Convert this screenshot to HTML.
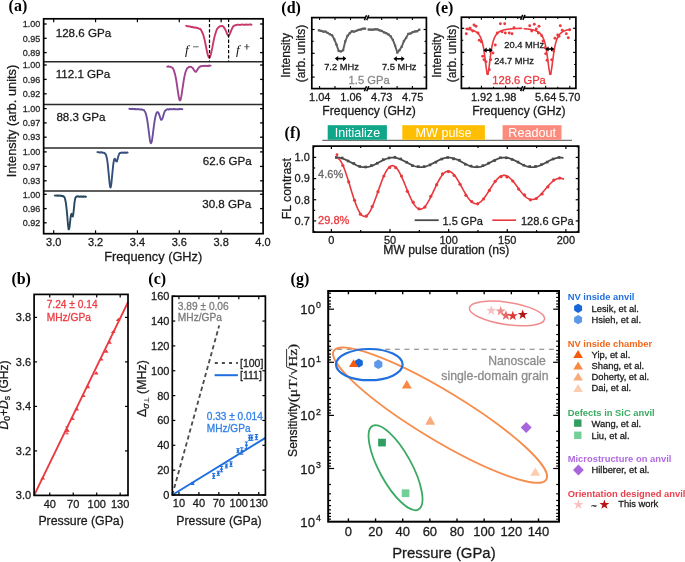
<!DOCTYPE html>
<html><head><meta charset="utf-8"><style>
html,body{margin:0;padding:0;background:#fff;overflow:hidden}
svg{display:block;will-change:transform}
svg{font-family:"Liberation Sans",sans-serif}
</style></head><body>
<svg width="685" height="562" viewBox="0 0 685 562">
<rect x="0" y="0" width="685" height="562" fill="#fff"/>
<text x="8.6" y="11.4" font-size="16" text-anchor="start" fill="#000" font-weight="bold" font-family="Liberation Serif" font-style="normal" >(a)</text>
<line x1="43.65" y1="24" x2="46.65" y2="24" stroke="#000" stroke-width="1.3" />
<line x1="263.1" y1="24" x2="260.1" y2="24" stroke="#000" stroke-width="1.3" />
<text x="40.2" y="27.2" font-size="9.0" text-anchor="end" fill="#2a2a2a" stroke="#2a2a2a" stroke-width="0.28" font-weight="normal" font-family="Liberation Sans" font-style="normal" >1.00</text>
<line x1="43.65" y1="38.3" x2="46.65" y2="38.3" stroke="#000" stroke-width="1.3" />
<line x1="263.1" y1="38.3" x2="260.1" y2="38.3" stroke="#000" stroke-width="1.3" />
<text x="40.2" y="41.5" font-size="9.0" text-anchor="end" fill="#2a2a2a" stroke="#2a2a2a" stroke-width="0.28" font-weight="normal" font-family="Liberation Sans" font-style="normal" >0.95</text>
<line x1="43.65" y1="52.6" x2="46.65" y2="52.6" stroke="#000" stroke-width="1.3" />
<line x1="263.1" y1="52.6" x2="260.1" y2="52.6" stroke="#000" stroke-width="1.3" />
<text x="40.2" y="55.8" font-size="9.0" text-anchor="end" fill="#2a2a2a" stroke="#2a2a2a" stroke-width="0.28" font-weight="normal" font-family="Liberation Sans" font-style="normal" >0.89</text>
<line x1="43.65" y1="61.8" x2="263.1" y2="61.8" stroke="#2a2a2a" stroke-width="1.5" />
<line x1="43.65" y1="65" x2="46.65" y2="65" stroke="#000" stroke-width="1.3" />
<line x1="263.1" y1="65" x2="260.1" y2="65" stroke="#000" stroke-width="1.3" />
<text x="40.2" y="68.2" font-size="9.0" text-anchor="end" fill="#2a2a2a" stroke="#2a2a2a" stroke-width="0.28" font-weight="normal" font-family="Liberation Sans" font-style="normal" >1.00</text>
<line x1="43.65" y1="79.4" x2="46.65" y2="79.4" stroke="#000" stroke-width="1.3" />
<line x1="263.1" y1="79.4" x2="260.1" y2="79.4" stroke="#000" stroke-width="1.3" />
<text x="40.2" y="82.6" font-size="9.0" text-anchor="end" fill="#2a2a2a" stroke="#2a2a2a" stroke-width="0.28" font-weight="normal" font-family="Liberation Sans" font-style="normal" >0.96</text>
<line x1="43.65" y1="93.8" x2="46.65" y2="93.8" stroke="#000" stroke-width="1.3" />
<line x1="263.1" y1="93.8" x2="260.1" y2="93.8" stroke="#000" stroke-width="1.3" />
<text x="40.2" y="97" font-size="9.0" text-anchor="end" fill="#2a2a2a" stroke="#2a2a2a" stroke-width="0.28" font-weight="normal" font-family="Liberation Sans" font-style="normal" >0.92</text>
<line x1="43.65" y1="104.6" x2="263.1" y2="104.6" stroke="#2a2a2a" stroke-width="1.5" />
<line x1="43.65" y1="108.6" x2="46.65" y2="108.6" stroke="#000" stroke-width="1.3" />
<line x1="263.1" y1="108.6" x2="260.1" y2="108.6" stroke="#000" stroke-width="1.3" />
<text x="40.2" y="111.8" font-size="9.0" text-anchor="end" fill="#2a2a2a" stroke="#2a2a2a" stroke-width="0.28" font-weight="normal" font-family="Liberation Sans" font-style="normal" >1.00</text>
<line x1="43.65" y1="122.9" x2="46.65" y2="122.9" stroke="#000" stroke-width="1.3" />
<line x1="263.1" y1="122.9" x2="260.1" y2="122.9" stroke="#000" stroke-width="1.3" />
<text x="40.2" y="126.1" font-size="9.0" text-anchor="end" fill="#2a2a2a" stroke="#2a2a2a" stroke-width="0.28" font-weight="normal" font-family="Liberation Sans" font-style="normal" >0.97</text>
<line x1="43.65" y1="137.2" x2="46.65" y2="137.2" stroke="#000" stroke-width="1.3" />
<line x1="263.1" y1="137.2" x2="260.1" y2="137.2" stroke="#000" stroke-width="1.3" />
<text x="40.2" y="140.4" font-size="9.0" text-anchor="end" fill="#2a2a2a" stroke="#2a2a2a" stroke-width="0.28" font-weight="normal" font-family="Liberation Sans" font-style="normal" >0.93</text>
<line x1="43.65" y1="147.9" x2="263.1" y2="147.9" stroke="#2a2a2a" stroke-width="1.5" />
<line x1="43.65" y1="151.9" x2="46.65" y2="151.9" stroke="#000" stroke-width="1.3" />
<line x1="263.1" y1="151.9" x2="260.1" y2="151.9" stroke="#000" stroke-width="1.3" />
<text x="40.2" y="155.1" font-size="9.0" text-anchor="end" fill="#2a2a2a" stroke="#2a2a2a" stroke-width="0.28" font-weight="normal" font-family="Liberation Sans" font-style="normal" >1.00</text>
<line x1="43.65" y1="166.4" x2="46.65" y2="166.4" stroke="#000" stroke-width="1.3" />
<line x1="263.1" y1="166.4" x2="260.1" y2="166.4" stroke="#000" stroke-width="1.3" />
<text x="40.2" y="169.6" font-size="9.0" text-anchor="end" fill="#2a2a2a" stroke="#2a2a2a" stroke-width="0.28" font-weight="normal" font-family="Liberation Sans" font-style="normal" >0.97</text>
<line x1="43.65" y1="180.8" x2="46.65" y2="180.8" stroke="#000" stroke-width="1.3" />
<line x1="263.1" y1="180.8" x2="260.1" y2="180.8" stroke="#000" stroke-width="1.3" />
<text x="40.2" y="184" font-size="9.0" text-anchor="end" fill="#2a2a2a" stroke="#2a2a2a" stroke-width="0.28" font-weight="normal" font-family="Liberation Sans" font-style="normal" >0.93</text>
<line x1="43.65" y1="191" x2="263.1" y2="191" stroke="#2a2a2a" stroke-width="1.5" />
<line x1="43.65" y1="194.3" x2="46.65" y2="194.3" stroke="#000" stroke-width="1.3" />
<line x1="263.1" y1="194.3" x2="260.1" y2="194.3" stroke="#000" stroke-width="1.3" />
<text x="40.2" y="197.5" font-size="9.0" text-anchor="end" fill="#2a2a2a" stroke="#2a2a2a" stroke-width="0.28" font-weight="normal" font-family="Liberation Sans" font-style="normal" >1.00</text>
<line x1="43.65" y1="208.6" x2="46.65" y2="208.6" stroke="#000" stroke-width="1.3" />
<line x1="263.1" y1="208.6" x2="260.1" y2="208.6" stroke="#000" stroke-width="1.3" />
<text x="40.2" y="211.8" font-size="9.0" text-anchor="end" fill="#2a2a2a" stroke="#2a2a2a" stroke-width="0.28" font-weight="normal" font-family="Liberation Sans" font-style="normal" >0.96</text>
<line x1="43.65" y1="222.8" x2="46.65" y2="222.8" stroke="#000" stroke-width="1.3" />
<line x1="263.1" y1="222.8" x2="260.1" y2="222.8" stroke="#000" stroke-width="1.3" />
<text x="40.2" y="226" font-size="9.0" text-anchor="end" fill="#2a2a2a" stroke="#2a2a2a" stroke-width="0.28" font-weight="normal" font-family="Liberation Sans" font-style="normal" >0.92</text>
<line x1="53.7" y1="233.7" x2="53.7" y2="230.3" stroke="#000" stroke-width="1.2" />
<line x1="53.7" y1="18.8" x2="53.7" y2="22.2" stroke="#000" stroke-width="1.2" />
<line x1="95.56" y1="233.7" x2="95.56" y2="230.3" stroke="#000" stroke-width="1.2" />
<line x1="95.56" y1="18.8" x2="95.56" y2="22.2" stroke="#000" stroke-width="1.2" />
<line x1="137.42" y1="233.7" x2="137.42" y2="230.3" stroke="#000" stroke-width="1.2" />
<line x1="137.42" y1="18.8" x2="137.42" y2="22.2" stroke="#000" stroke-width="1.2" />
<line x1="179.28" y1="233.7" x2="179.28" y2="230.3" stroke="#000" stroke-width="1.2" />
<line x1="179.28" y1="18.8" x2="179.28" y2="22.2" stroke="#000" stroke-width="1.2" />
<line x1="221.14" y1="233.7" x2="221.14" y2="230.3" stroke="#000" stroke-width="1.2" />
<line x1="221.14" y1="18.8" x2="221.14" y2="22.2" stroke="#000" stroke-width="1.2" />
<text x="53.7" y="246.3" font-size="11" text-anchor="middle" fill="#1a1a1a" stroke="#1a1a1a" stroke-width="0.28" font-weight="normal" font-family="Liberation Sans" font-style="normal" >3.0</text>
<text x="95.56" y="246.3" font-size="11" text-anchor="middle" fill="#1a1a1a" stroke="#1a1a1a" stroke-width="0.28" font-weight="normal" font-family="Liberation Sans" font-style="normal" >3.2</text>
<text x="137.42" y="246.3" font-size="11" text-anchor="middle" fill="#1a1a1a" stroke="#1a1a1a" stroke-width="0.28" font-weight="normal" font-family="Liberation Sans" font-style="normal" >3.4</text>
<text x="179.28" y="246.3" font-size="11" text-anchor="middle" fill="#1a1a1a" stroke="#1a1a1a" stroke-width="0.28" font-weight="normal" font-family="Liberation Sans" font-style="normal" >3.6</text>
<text x="221.14" y="246.3" font-size="11" text-anchor="middle" fill="#1a1a1a" stroke="#1a1a1a" stroke-width="0.28" font-weight="normal" font-family="Liberation Sans" font-style="normal" >3.8</text>
<text x="263" y="246.3" font-size="11" text-anchor="middle" fill="#1a1a1a" stroke="#1a1a1a" stroke-width="0.28" font-weight="normal" font-family="Liberation Sans" font-style="normal" >4.0</text>
<text x="153.2" y="261.1" font-size="12.8" text-anchor="middle" fill="#1a1a1a" stroke="#1a1a1a" stroke-width="0.28" font-weight="normal" font-family="Liberation Sans" font-style="normal" >Frequency (GHz)</text>
<text x="15.8" y="121" font-size="12.8" text-anchor="middle" fill="#1a1a1a" stroke="#1a1a1a" stroke-width="0.28" font-weight="normal" font-family="Liberation Sans" font-style="normal" transform="rotate(-90 15.8 121)">Intensity (arb. units)</text>
<text x="55.7" y="37.3" font-size="11.6" text-anchor="start" fill="#1a1a1a" stroke="#1a1a1a" stroke-width="0.28" font-weight="normal" font-family="Liberation Sans" font-style="normal" >128.6 GPa</text>
<text x="55.7" y="78" font-size="11.6" text-anchor="start" fill="#1a1a1a" stroke="#1a1a1a" stroke-width="0.28" font-weight="normal" font-family="Liberation Sans" font-style="normal" >112.1 GPa</text>
<text x="56.4" y="121.4" font-size="11.6" text-anchor="start" fill="#1a1a1a" stroke="#1a1a1a" stroke-width="0.28" font-weight="normal" font-family="Liberation Sans" font-style="normal" >88.3 GPa</text>
<text x="251.8" y="164.9" font-size="11.6" text-anchor="end" fill="#1a1a1a" stroke="#1a1a1a" stroke-width="0.28" font-weight="normal" font-family="Liberation Sans" font-style="normal" >62.6 GPa</text>
<text x="251.2" y="207.6" font-size="11.6" text-anchor="end" fill="#1a1a1a" stroke="#1a1a1a" stroke-width="0.28" font-weight="normal" font-family="Liberation Sans" font-style="normal" >30.8 GPa</text>
<path d="M186.2,25.72 L186.93,26.18 L187.65,26.24 L188.38,26.11 L189.1,26.37 L189.83,26.5 L190.55,26.75 L191.28,26.98 L192,26.8 L192.73,26.92 L193.46,27.48 L194.18,27.42 L194.91,27.72 L195.63,27.46 L196.36,27.8 L197.08,28.06 L197.81,27.96 L198.53,28.52 L199.26,28.79 L199.99,28.8 L200.71,29.46 L201.44,30.68 L202.16,32.23 L202.89,33.75 L203.61,35.96 L204.34,38.84 L205.06,41.86 L205.79,45.48 L206.52,49.21 L207.24,52.67 L207.97,55.4 L208.69,57.24 L209.42,57.69 L210.14,56.74 L210.87,54.29 L211.59,50.92 L212.32,47.65 L213.05,43.74 L213.77,40.18 L214.5,36.7 L215.22,34.31 L215.95,31.95 L216.67,29.78 L217.4,28.52 L218.12,27.73 L218.85,27.02 L219.58,26.67 L220.3,26.11 L221.03,26.15 L221.75,26.05 L222.48,26.01 L223.2,26.52 L223.93,27.35 L224.65,28.39 L225.38,29.69 L226.11,31.51 L226.83,33.1 L227.56,34.79 L228.28,35.91 L229.01,35.46 L229.73,34.08 L230.46,32.44 L231.18,30.59 L231.91,28.83 L232.64,27.3 L233.36,26.34 L234.09,25.73 L234.81,25.48 L235.54,25.13 L236.26,24.94 L236.99,24.91 L237.71,24.63 L238.44,24.6 L239.17,24.9 L239.89,25.01 L240.62,24.79 L241.34,24.67 L242.07,24.53 L242.79,24.68 L243.52,24.9 L244.24,24.77 L244.97,24.64 L245.7,24.78 L246.42,24.45 L247.15,24.58 L247.87,24.78 L248.6,24.58 L249.32,24.51 L250.05,24.4 L250.77,24.52 L251.5,24.71" fill="none" stroke="#c9386c" stroke-width="1.9" stroke-linejoin="round" stroke-linecap="round" />
<line x1="209.5" y1="18.8" x2="209.5" y2="61.8" stroke="#000" stroke-width="1.2" stroke-dasharray="3.3,1.9"/>
<line x1="228.6" y1="18.8" x2="228.6" y2="61.8" stroke="#000" stroke-width="1.2" stroke-dasharray="3.3,1.9"/>
<text x="185.0" y="53.9" font-size="13.2" fill="#111" font-family="Liberation Serif" font-style="italic">f</text>
<text x="236.1" y="53.9" font-size="13.2" fill="#111" font-family="Liberation Serif" font-style="italic">f</text>
<line x1="193" y1="46.8" x2="198.6" y2="46.8" stroke="#555" stroke-width="0.9" />
<line x1="244.2" y1="46.7" x2="249.5" y2="46.7" stroke="#666" stroke-width="0.9" />
<line x1="246.85" y1="44.1" x2="246.85" y2="49.6" stroke="#333" stroke-width="1.0" />
<path d="M167.2,66.66 L167.68,66.68 L168.16,66.27 L168.65,66.33 L169.13,66.76 L169.61,66.77 L170.09,66.83 L170.58,66.77 L171.06,67.08 L171.54,67.31 L172.02,67.61 L172.5,67.84 L172.99,68.58 L173.47,69.38 L173.95,70.62 L174.43,72.15 L174.92,73.86 L175.4,75.77 L175.88,78.21 L176.36,80.97 L176.84,83.98 L177.33,87.29 L177.81,90.86 L178.29,94 L178.77,96.85 L179.26,99.26 L179.74,100.27 L180.22,100.33 L180.7,99.07 L181.18,96.88 L181.67,94.25 L182.15,90.97 L182.63,87.8 L183.11,84.72 L183.6,81.4 L184.08,78.28 L184.56,76.11 L185.04,73.91 L185.52,72.11 L186.01,70.78 L186.49,69.6 L186.97,68.78 L187.45,67.94 L187.94,67.8 L188.42,67.47 L188.9,66.84 L189.38,67 L189.86,66.9 L190.35,66.76 L190.83,66.85 L191.31,66.97 L191.79,67.44 L192.28,67.61 L192.76,68.29 L193.24,68.69 L193.72,69.69 L194.2,70.46 L194.69,70.95 L195.17,71.52 L195.65,71.9 L196.13,71.63 L196.62,71.01 L197.1,70.16 L197.58,69.41 L198.06,68.8 L198.54,67.82 L199.03,67.6 L199.51,66.82 L199.99,66.81 L200.47,66.27 L200.96,66.44 L201.44,66.22 L201.92,66.05 L202.4,66.02 L202.88,66.05 L203.37,66 L203.85,65.84 L204.33,65.78 L204.81,65.91 L205.3,66.11 L205.78,65.95 L206.26,65.66 L206.74,66.02 L207.22,65.97 L207.71,66.05 L208.19,65.68 L208.67,65.95 L209.15,65.6 L209.64,65.89 L210.12,65.69 L210.6,65.66" fill="none" stroke="#a1448f" stroke-width="1.9" stroke-linejoin="round" stroke-linecap="round" />
<path d="M129.3,108.79 L129.89,108.95 L130.48,108.87 L131.07,109 L131.66,109.03 L132.24,108.76 L132.83,108.75 L133.42,109.17 L134.01,108.9 L134.6,108.9 L135.19,109.3 L135.78,109.06 L136.37,109.26 L136.96,109.11 L137.54,109.22 L138.13,109 L138.72,109.28 L139.31,109.43 L139.9,109.3 L140.49,109.46 L141.08,109.49 L141.67,109.27 L142.26,109.73 L142.84,109.81 L143.43,109.92 L144.02,110.18 L144.61,111.23 L145.2,112.01 L145.79,113.59 L146.38,115.75 L146.97,118.47 L147.56,122.14 L148.14,126.11 L148.73,130.99 L149.32,135.53 L149.91,139.97 L150.5,142.82 L151.09,143.26 L151.68,141.79 L152.27,138.49 L152.86,134.46 L153.44,129.46 L154.03,125 L154.62,120.82 L155.21,117.64 L155.8,115.08 L156.39,113.32 L156.98,112.41 L157.57,112.05 L158.16,112.5 L158.74,113.32 L159.33,114.92 L159.92,116.73 L160.51,118.63 L161.1,119.77 L161.69,119.7 L162.28,118.99 L162.87,117.22 L163.46,115.15 L164.04,113.13 L164.63,111.75 L165.22,110.51 L165.81,110.2 L166.4,109.72 L166.99,109.4 L167.58,109.19 L168.17,109.53 L168.76,109.56 L169.34,109.08 L169.93,109.42 L170.52,109.21 L171.11,109.06 L171.7,109.12 L172.29,109.35 L172.88,109.4 L173.47,108.97 L174.06,109.25 L174.64,108.96 L175.23,109.3 L175.82,109.1 L176.41,109.37 L177,109.42 L177.59,109.18 L178.18,109.42 L178.77,109.08 L179.36,108.96 L179.94,109.22 L180.53,108.94 L181.12,109.02 L181.71,109.12 L182.3,109.23" fill="none" stroke="#6c4e9d" stroke-width="1.9" stroke-linejoin="round" stroke-linecap="round" />
<path d="M97.4,152.12 L97.74,152.07 L98.07,152.23 L98.41,152.12 L98.74,152.09 L99.08,152.27 L99.41,152.55 L99.75,152.5 L100.08,152.5 L100.42,152.25 L100.76,152.43 L101.09,152.32 L101.43,152.3 L101.76,152.29 L102.1,152.38 L102.43,152.77 L102.77,152.76 L103.1,152.79 L103.44,152.85 L103.78,152.62 L104.11,152.78 L104.45,153.08 L104.78,153.33 L105.12,153.68 L105.45,154.11 L105.79,154.3 L106.12,155.38 L106.46,156.52 L106.8,157.9 L107.13,159.6 L107.47,162.06 L107.8,164.61 L108.14,168.18 L108.47,171.6 L108.81,175.07 L109.14,178.55 L109.48,182.2 L109.82,184.8 L110.15,186.83 L110.49,187.52 L110.82,186.77 L111.16,184.95 L111.49,182.36 L111.83,179.01 L112.16,175.32 L112.5,171.82 L112.84,168.69 L113.17,165.28 L113.51,162.75 L113.84,161.08 L114.18,159.57 L114.51,158.98 L114.85,158.83 L115.18,159.12 L115.52,160.14 L115.86,160.55 L116.19,161.34 L116.53,161.5 L116.86,161.4 L117.2,160.35 L117.53,159.18 L117.87,158.04 L118.2,156.54 L118.54,155.54 L118.88,154.82 L119.21,153.75 L119.55,153.27 L119.88,153.05 L120.22,153.13 L120.55,152.94 L120.89,152.68 L121.22,152.68 L121.56,152.57 L121.9,152.69 L122.23,152.47 L122.57,152.78 L122.9,152.87 L123.24,152.88 L123.57,152.77 L123.91,152.87 L124.24,152.39 L124.58,152.52 L124.92,152.86 L125.25,152.76 L125.59,152.57 L125.92,152.84 L126.26,152.67 L126.59,152.77 L126.93,152.51 L127.26,152.45 L127.6,152.58" fill="none" stroke="#354f7c" stroke-width="1.9" stroke-linejoin="round" stroke-linecap="round" />
<path d="M54.9,195.46 L55.25,195.54 L55.59,195.59 L55.94,195.68 L56.28,195.6 L56.63,195.71 L56.97,195.29 L57.32,195.53 L57.66,195.79 L58.01,195.67 L58.36,195.82 L58.7,195.45 L59.05,195.66 L59.39,195.57 L59.74,195.75 L60.08,195.8 L60.43,195.55 L60.77,195.69 L61.12,195.76 L61.47,196.13 L61.81,196.1 L62.16,195.85 L62.5,196.24 L62.85,196 L63.19,196.36 L63.54,196.28 L63.88,196.47 L64.23,197.29 L64.58,197.53 L64.92,198.36 L65.27,199.93 L65.61,201.5 L65.96,203.35 L66.3,206.39 L66.65,209.42 L66.99,213.19 L67.34,216.93 L67.69,221.29 L68.03,224.82 L68.38,227.83 L68.72,229.43 L69.07,229.2 L69.41,227.77 L69.76,225.06 L70.1,221.85 L70.45,218.62 L70.8,216.1 L71.14,214.59 L71.49,213.8 L71.83,214.67 L72.18,215.55 L72.52,216.38 L72.87,216.5 L73.21,214.79 L73.56,211.93 L73.91,208.55 L74.25,205.18 L74.6,201.87 L74.94,200.08 L75.29,198.11 L75.63,197.58 L75.98,197.15 L76.32,196.5 L76.67,196.78 L77.02,196.51 L77.36,196.59 L77.71,196.29 L78.05,196.3 L78.4,196.36 L78.74,196.75 L79.09,196.37 L79.43,196.65 L79.78,196.74 L80.13,196.75 L80.47,196.45 L80.82,196.46 L81.16,196.55 L81.51,196.68 L81.85,196.36 L82.2,196.69 L82.54,196.72 L82.89,196.76 L83.24,196.36 L83.58,196.82 L83.93,196.4 L84.27,196.54 L84.62,196.68 L84.96,196.85 L85.31,196.57 L85.65,196.87 L86,196.69" fill="none" stroke="#28485e" stroke-width="1.9" stroke-linejoin="round" stroke-linecap="round" />
<rect x="43.65" y="18.8" width="219.45" height="214.9" fill="none" stroke="#000" stroke-width="1.7"/>
<text x="11.4" y="284.1" font-size="16" text-anchor="start" fill="#000" font-weight="bold" font-family="Liberation Serif" font-style="normal" >(b)</text>
<line x1="49.75" y1="495.4" x2="49.75" y2="492.4" stroke="#000" stroke-width="1.2" />
<line x1="49.75" y1="294.4" x2="49.75" y2="297.4" stroke="#000" stroke-width="1.2" />
<text x="49.75" y="507.7" font-size="11" text-anchor="middle" fill="#1a1a1a" stroke="#1a1a1a" stroke-width="0.28" font-weight="normal" font-family="Liberation Sans" font-style="normal" >40</text>
<line x1="73.22" y1="495.4" x2="73.22" y2="492.4" stroke="#000" stroke-width="1.2" />
<line x1="73.22" y1="294.4" x2="73.22" y2="297.4" stroke="#000" stroke-width="1.2" />
<text x="73.22" y="507.7" font-size="11" text-anchor="middle" fill="#1a1a1a" stroke="#1a1a1a" stroke-width="0.28" font-weight="normal" font-family="Liberation Sans" font-style="normal" >70</text>
<line x1="96.7" y1="495.4" x2="96.7" y2="492.4" stroke="#000" stroke-width="1.2" />
<line x1="96.7" y1="294.4" x2="96.7" y2="297.4" stroke="#000" stroke-width="1.2" />
<text x="96.7" y="507.7" font-size="11" text-anchor="middle" fill="#1a1a1a" stroke="#1a1a1a" stroke-width="0.28" font-weight="normal" font-family="Liberation Sans" font-style="normal" >100</text>
<line x1="120.18" y1="495.4" x2="120.18" y2="492.4" stroke="#000" stroke-width="1.2" />
<line x1="120.18" y1="294.4" x2="120.18" y2="297.4" stroke="#000" stroke-width="1.2" />
<text x="120.18" y="507.7" font-size="11" text-anchor="middle" fill="#1a1a1a" stroke="#1a1a1a" stroke-width="0.28" font-weight="normal" font-family="Liberation Sans" font-style="normal" >130</text>
<line x1="34.1" y1="495.4" x2="37.1" y2="495.4" stroke="#000" stroke-width="1.2" />
<line x1="128" y1="495.4" x2="125" y2="495.4" stroke="#000" stroke-width="1.2" />
<text x="31.1" y="499.4" font-size="11" text-anchor="end" fill="#1a1a1a" stroke="#1a1a1a" stroke-width="0.28" font-weight="normal" font-family="Liberation Sans" font-style="normal" >3.0</text>
<line x1="34.1" y1="450.9" x2="37.1" y2="450.9" stroke="#000" stroke-width="1.2" />
<line x1="128" y1="450.9" x2="125" y2="450.9" stroke="#000" stroke-width="1.2" />
<text x="31.1" y="454.9" font-size="11" text-anchor="end" fill="#1a1a1a" stroke="#1a1a1a" stroke-width="0.28" font-weight="normal" font-family="Liberation Sans" font-style="normal" >3.2</text>
<line x1="34.1" y1="406.4" x2="37.1" y2="406.4" stroke="#000" stroke-width="1.2" />
<line x1="128" y1="406.4" x2="125" y2="406.4" stroke="#000" stroke-width="1.2" />
<text x="31.1" y="410.4" font-size="11" text-anchor="end" fill="#1a1a1a" stroke="#1a1a1a" stroke-width="0.28" font-weight="normal" font-family="Liberation Sans" font-style="normal" >3.4</text>
<line x1="34.1" y1="361.9" x2="37.1" y2="361.9" stroke="#000" stroke-width="1.2" />
<line x1="128" y1="361.9" x2="125" y2="361.9" stroke="#000" stroke-width="1.2" />
<text x="31.1" y="365.9" font-size="11" text-anchor="end" fill="#1a1a1a" stroke="#1a1a1a" stroke-width="0.28" font-weight="normal" font-family="Liberation Sans" font-style="normal" >3.6</text>
<line x1="34.1" y1="317.4" x2="37.1" y2="317.4" stroke="#000" stroke-width="1.2" />
<line x1="128" y1="317.4" x2="125" y2="317.4" stroke="#000" stroke-width="1.2" />
<text x="31.1" y="321.4" font-size="11" text-anchor="end" fill="#1a1a1a" stroke="#1a1a1a" stroke-width="0.28" font-weight="normal" font-family="Liberation Sans" font-style="normal" >3.8</text>
<text x="81.1" y="525.2" font-size="12.3" text-anchor="middle" fill="#1a1a1a" stroke="#1a1a1a" stroke-width="0.28" font-weight="normal" font-family="Liberation Sans" font-style="normal" >Pressure (GPa)</text>
<text x="8" y="395" font-size="12" fill="#1a1a1a" stroke="#1a1a1a" stroke-width="0.28" font-family="Liberation Sans" text-anchor="middle" transform="rotate(-90 8 395)"><tspan font-style="italic">D</tspan><tspan font-size="8.6" dy="1.7">0</tspan><tspan dy="-1.7">+</tspan><tspan font-style="italic">D</tspan><tspan font-size="8.6" dy="1.7">s</tspan><tspan dy="-1.7"> (GHz)</tspan></text>
<line x1="34.1" y1="495.4" x2="128" y2="302.2" stroke="#ea3a40" stroke-width="1.9" />
<path d="M40.3,479.5 L45.1,479.5 L42.9,476.3 Z" fill="#ea3a40"/>
<path d="M65,431.8 L69.8,431.8 L67.6,428.6 Z" fill="#ea3a40"/>
<path d="M70,420.1 L74.8,420.1 L72.6,416.9 Z" fill="#ea3a40"/>
<path d="M74.2,410.4 L79,410.4 L76.8,407.2 Z" fill="#ea3a40"/>
<path d="M80.9,396.9 L85.7,396.9 L83.5,393.7 Z" fill="#ea3a40"/>
<path d="M85.4,388.2 L90.2,388.2 L88,385 Z" fill="#ea3a40"/>
<path d="M93.8,374.4 L98.6,374.4 L96.4,371.2 Z" fill="#ea3a40"/>
<path d="M98.7,360.5 L103.5,360.5 L101.3,357.3 Z" fill="#ea3a40"/>
<path d="M103.8,352.8 L108.6,352.8 L106.4,349.6 Z" fill="#ea3a40"/>
<path d="M107.1,343.7 L111.9,343.7 L109.7,340.5 Z" fill="#ea3a40"/>
<path d="M110.8,333.1 L115.6,333.1 L113.4,329.9 Z" fill="#ea3a40"/>
<path d="M115.8,320.9 L120.6,320.9 L118.4,317.7 Z" fill="#ea3a40"/>
<line x1="67" y1="426.8" x2="67" y2="433.8" stroke="#ea3a40" stroke-width="1" />
<line x1="65.4" y1="426.8" x2="68.6" y2="426.8" stroke="#ea3a40" stroke-width="1" />
<line x1="65.4" y1="433.8" x2="68.6" y2="433.8" stroke="#ea3a40" stroke-width="1" />
<text x="46.7" y="308.4" font-size="10.2" text-anchor="start" fill="#ea3a40" stroke="#ea3a40" stroke-width="0.28" font-weight="normal" font-family="Liberation Sans" font-style="normal" >7.24 &#177; 0.14</text>
<text x="46.7" y="321.1" font-size="10.2" text-anchor="start" fill="#ea3a40" stroke="#ea3a40" stroke-width="0.28" font-weight="normal" font-family="Liberation Sans" font-style="normal" >MHz/GPa</text>
<rect x="34.1" y="294.4" width="93.9" height="201" fill="none" stroke="#000" stroke-width="1.7"/>
<text x="148.3" y="283.8" font-size="16" text-anchor="start" fill="#000" font-weight="bold" font-family="Liberation Serif" font-style="normal" >(c)</text>
<line x1="178.95" y1="495" x2="178.95" y2="492" stroke="#000" stroke-width="1.2" />
<line x1="178.95" y1="296.2" x2="178.95" y2="299.2" stroke="#000" stroke-width="1.2" />
<text x="178.95" y="507.2" font-size="11" text-anchor="middle" fill="#1a1a1a" stroke="#1a1a1a" stroke-width="0.28" font-weight="normal" font-family="Liberation Sans" font-style="normal" >10</text>
<line x1="198.9" y1="495" x2="198.9" y2="492" stroke="#000" stroke-width="1.2" />
<line x1="198.9" y1="296.2" x2="198.9" y2="299.2" stroke="#000" stroke-width="1.2" />
<text x="198.9" y="507.2" font-size="11" text-anchor="middle" fill="#1a1a1a" stroke="#1a1a1a" stroke-width="0.28" font-weight="normal" font-family="Liberation Sans" font-style="normal" >40</text>
<line x1="218.85" y1="495" x2="218.85" y2="492" stroke="#000" stroke-width="1.2" />
<line x1="218.85" y1="296.2" x2="218.85" y2="299.2" stroke="#000" stroke-width="1.2" />
<text x="218.85" y="507.2" font-size="11" text-anchor="middle" fill="#1a1a1a" stroke="#1a1a1a" stroke-width="0.28" font-weight="normal" font-family="Liberation Sans" font-style="normal" >70</text>
<line x1="238.8" y1="495" x2="238.8" y2="492" stroke="#000" stroke-width="1.2" />
<line x1="238.8" y1="296.2" x2="238.8" y2="299.2" stroke="#000" stroke-width="1.2" />
<text x="238.8" y="507.2" font-size="11" text-anchor="middle" fill="#1a1a1a" stroke="#1a1a1a" stroke-width="0.28" font-weight="normal" font-family="Liberation Sans" font-style="normal" >100</text>
<line x1="258.75" y1="495" x2="258.75" y2="492" stroke="#000" stroke-width="1.2" />
<line x1="258.75" y1="296.2" x2="258.75" y2="299.2" stroke="#000" stroke-width="1.2" />
<text x="258.75" y="507.2" font-size="11" text-anchor="middle" fill="#1a1a1a" stroke="#1a1a1a" stroke-width="0.28" font-weight="normal" font-family="Liberation Sans" font-style="normal" >130</text>
<line x1="172.3" y1="495" x2="175.3" y2="495" stroke="#000" stroke-width="1.2" />
<line x1="265.4" y1="495" x2="262.4" y2="495" stroke="#000" stroke-width="1.2" />
<text x="169.4" y="499" font-size="11" text-anchor="end" fill="#1a1a1a" stroke="#1a1a1a" stroke-width="0.28" font-weight="normal" font-family="Liberation Sans" font-style="normal" >0</text>
<line x1="172.3" y1="470.15" x2="175.3" y2="470.15" stroke="#000" stroke-width="1.2" />
<line x1="265.4" y1="470.15" x2="262.4" y2="470.15" stroke="#000" stroke-width="1.2" />
<text x="169.4" y="474.15" font-size="11" text-anchor="end" fill="#1a1a1a" stroke="#1a1a1a" stroke-width="0.28" font-weight="normal" font-family="Liberation Sans" font-style="normal" >20</text>
<line x1="172.3" y1="445.3" x2="175.3" y2="445.3" stroke="#000" stroke-width="1.2" />
<line x1="265.4" y1="445.3" x2="262.4" y2="445.3" stroke="#000" stroke-width="1.2" />
<text x="169.4" y="449.3" font-size="11" text-anchor="end" fill="#1a1a1a" stroke="#1a1a1a" stroke-width="0.28" font-weight="normal" font-family="Liberation Sans" font-style="normal" >40</text>
<line x1="172.3" y1="420.45" x2="175.3" y2="420.45" stroke="#000" stroke-width="1.2" />
<line x1="265.4" y1="420.45" x2="262.4" y2="420.45" stroke="#000" stroke-width="1.2" />
<text x="169.4" y="424.45" font-size="11" text-anchor="end" fill="#1a1a1a" stroke="#1a1a1a" stroke-width="0.28" font-weight="normal" font-family="Liberation Sans" font-style="normal" >60</text>
<line x1="172.3" y1="395.6" x2="175.3" y2="395.6" stroke="#000" stroke-width="1.2" />
<line x1="265.4" y1="395.6" x2="262.4" y2="395.6" stroke="#000" stroke-width="1.2" />
<text x="169.4" y="399.6" font-size="11" text-anchor="end" fill="#1a1a1a" stroke="#1a1a1a" stroke-width="0.28" font-weight="normal" font-family="Liberation Sans" font-style="normal" >80</text>
<line x1="172.3" y1="370.75" x2="175.3" y2="370.75" stroke="#000" stroke-width="1.2" />
<line x1="265.4" y1="370.75" x2="262.4" y2="370.75" stroke="#000" stroke-width="1.2" />
<text x="169.4" y="374.75" font-size="11" text-anchor="end" fill="#1a1a1a" stroke="#1a1a1a" stroke-width="0.28" font-weight="normal" font-family="Liberation Sans" font-style="normal" >100</text>
<line x1="172.3" y1="345.9" x2="175.3" y2="345.9" stroke="#000" stroke-width="1.2" />
<line x1="265.4" y1="345.9" x2="262.4" y2="345.9" stroke="#000" stroke-width="1.2" />
<text x="169.4" y="349.9" font-size="11" text-anchor="end" fill="#1a1a1a" stroke="#1a1a1a" stroke-width="0.28" font-weight="normal" font-family="Liberation Sans" font-style="normal" >120</text>
<line x1="172.3" y1="321.05" x2="175.3" y2="321.05" stroke="#000" stroke-width="1.2" />
<line x1="265.4" y1="321.05" x2="262.4" y2="321.05" stroke="#000" stroke-width="1.2" />
<text x="169.4" y="325.05" font-size="11" text-anchor="end" fill="#1a1a1a" stroke="#1a1a1a" stroke-width="0.28" font-weight="normal" font-family="Liberation Sans" font-style="normal" >140</text>
<line x1="172.3" y1="296.2" x2="175.3" y2="296.2" stroke="#000" stroke-width="1.2" />
<line x1="265.4" y1="296.2" x2="262.4" y2="296.2" stroke="#000" stroke-width="1.2" />
<text x="169.4" y="300.2" font-size="11" text-anchor="end" fill="#1a1a1a" stroke="#1a1a1a" stroke-width="0.28" font-weight="normal" font-family="Liberation Sans" font-style="normal" >160</text>
<text x="219" y="524.9" font-size="12.3" text-anchor="middle" fill="#1a1a1a" stroke="#1a1a1a" stroke-width="0.28" font-weight="normal" font-family="Liberation Sans" font-style="normal" >Pressure (GPa)</text>
<text x="146.3" y="388.6" font-size="12.4" fill="#1a1a1a" stroke="#1a1a1a" stroke-width="0.28" font-family="Liberation Sans" text-anchor="middle" transform="rotate(-90 146.3 388.6)">&#916;<tspan font-size="9" dy="2.4" font-style="italic">&#963;</tspan><tspan font-size="7" dy="0.6" stroke-width="0.1">&#8869;</tspan><tspan dy="-3.0"> (MHz)</tspan></text>
<line x1="172.3" y1="495" x2="219.2" y2="325.5" stroke="#4a4a4a" stroke-width="1.8" stroke-dasharray="4.2,3.0"/>
<line x1="172.3" y1="495" x2="265.4" y2="437.9" stroke="#1f6fde" stroke-width="2" />
<circle cx="192.7" cy="483.5" r="1.3" fill="#1f6fde"/>
<line x1="192.7" y1="482.5" x2="192.7" y2="484.5" stroke="#1f6fde" stroke-width="1" />
<line x1="191" y1="482.5" x2="194.4" y2="482.5" stroke="#1f6fde" stroke-width="1" />
<line x1="191" y1="484.5" x2="194.4" y2="484.5" stroke="#1f6fde" stroke-width="1" />
<circle cx="213.7" cy="475.9" r="1.3" fill="#1f6fde"/>
<line x1="213.7" y1="473.4" x2="213.7" y2="478.4" stroke="#1f6fde" stroke-width="1" />
<line x1="212" y1="473.4" x2="215.4" y2="473.4" stroke="#1f6fde" stroke-width="1" />
<line x1="212" y1="478.4" x2="215.4" y2="478.4" stroke="#1f6fde" stroke-width="1" />
<circle cx="218.3" cy="473.3" r="1.3" fill="#1f6fde"/>
<line x1="218.3" y1="471.2" x2="218.3" y2="475.4" stroke="#1f6fde" stroke-width="1" />
<line x1="216.6" y1="471.2" x2="220" y2="471.2" stroke="#1f6fde" stroke-width="1" />
<line x1="216.6" y1="475.4" x2="220" y2="475.4" stroke="#1f6fde" stroke-width="1" />
<circle cx="221.5" cy="469.2" r="1.3" fill="#1f6fde"/>
<line x1="221.5" y1="466.6" x2="221.5" y2="471.8" stroke="#1f6fde" stroke-width="1" />
<line x1="219.8" y1="466.6" x2="223.2" y2="466.6" stroke="#1f6fde" stroke-width="1" />
<line x1="219.8" y1="471.8" x2="223.2" y2="471.8" stroke="#1f6fde" stroke-width="1" />
<circle cx="226.4" cy="466" r="1.3" fill="#1f6fde"/>
<line x1="226.4" y1="464.1" x2="226.4" y2="467.9" stroke="#1f6fde" stroke-width="1" />
<line x1="224.7" y1="464.1" x2="228.1" y2="464.1" stroke="#1f6fde" stroke-width="1" />
<line x1="224.7" y1="467.9" x2="228.1" y2="467.9" stroke="#1f6fde" stroke-width="1" />
<circle cx="231" cy="464.1" r="1.3" fill="#1f6fde"/>
<line x1="231" y1="461.8" x2="231" y2="466.4" stroke="#1f6fde" stroke-width="1" />
<line x1="229.3" y1="461.8" x2="232.7" y2="461.8" stroke="#1f6fde" stroke-width="1" />
<line x1="229.3" y1="466.4" x2="232.7" y2="466.4" stroke="#1f6fde" stroke-width="1" />
<circle cx="238" cy="450.7" r="1.3" fill="#1f6fde"/>
<line x1="238" y1="448.7" x2="238" y2="452.7" stroke="#1f6fde" stroke-width="1" />
<line x1="236.3" y1="448.7" x2="239.7" y2="448.7" stroke="#1f6fde" stroke-width="1" />
<line x1="236.3" y1="452.7" x2="239.7" y2="452.7" stroke="#1f6fde" stroke-width="1" />
<circle cx="241.8" cy="451" r="1.3" fill="#1f6fde"/>
<line x1="241.8" y1="447.8" x2="241.8" y2="454.2" stroke="#1f6fde" stroke-width="1" />
<line x1="240.1" y1="447.8" x2="243.5" y2="447.8" stroke="#1f6fde" stroke-width="1" />
<line x1="240.1" y1="454.2" x2="243.5" y2="454.2" stroke="#1f6fde" stroke-width="1" />
<circle cx="246.4" cy="445.2" r="1.3" fill="#1f6fde"/>
<line x1="246.4" y1="442" x2="246.4" y2="448.4" stroke="#1f6fde" stroke-width="1" />
<line x1="244.7" y1="442" x2="248.1" y2="442" stroke="#1f6fde" stroke-width="1" />
<line x1="244.7" y1="448.4" x2="248.1" y2="448.4" stroke="#1f6fde" stroke-width="1" />
<circle cx="249.5" cy="437.7" r="1.3" fill="#1f6fde"/>
<line x1="249.5" y1="435.1" x2="249.5" y2="440.3" stroke="#1f6fde" stroke-width="1" />
<line x1="247.8" y1="435.1" x2="251.2" y2="435.1" stroke="#1f6fde" stroke-width="1" />
<line x1="247.8" y1="440.3" x2="251.2" y2="440.3" stroke="#1f6fde" stroke-width="1" />
<circle cx="251.8" cy="437.7" r="1.3" fill="#1f6fde"/>
<line x1="251.8" y1="435.1" x2="251.8" y2="440.3" stroke="#1f6fde" stroke-width="1" />
<line x1="250.1" y1="435.1" x2="253.5" y2="435.1" stroke="#1f6fde" stroke-width="1" />
<line x1="250.1" y1="440.3" x2="253.5" y2="440.3" stroke="#1f6fde" stroke-width="1" />
<circle cx="256.4" cy="437.1" r="1.3" fill="#1f6fde"/>
<line x1="256.4" y1="434.5" x2="256.4" y2="439.7" stroke="#1f6fde" stroke-width="1" />
<line x1="254.7" y1="434.5" x2="258.1" y2="434.5" stroke="#1f6fde" stroke-width="1" />
<line x1="254.7" y1="439.7" x2="258.1" y2="439.7" stroke="#1f6fde" stroke-width="1" />
<line x1="214.8" y1="363" x2="237.9" y2="363" stroke="#4a4a4a" stroke-width="1.8" stroke-dasharray="3.0,4.1"/>
<line x1="214.6" y1="375.2" x2="237.9" y2="375.2" stroke="#1f6fde" stroke-width="2" />
<text x="240" y="367.2" font-size="10.5" text-anchor="start" fill="#1a1a1a" stroke="#1a1a1a" stroke-width="0.28" font-weight="normal" font-family="Liberation Sans" font-style="normal" >[100]</text>
<text x="240" y="379.4" font-size="10.5" text-anchor="start" fill="#1a1a1a" stroke="#1a1a1a" stroke-width="0.28" font-weight="normal" font-family="Liberation Sans" font-style="normal" >[111]</text>
<text x="177.8" y="309.5" font-size="10.2" text-anchor="start" fill="#7a7a7a" stroke="#7a7a7a" stroke-width="0.28" font-weight="normal" font-family="Liberation Sans" font-style="normal" >3.89 &#177; 0.06</text>
<text x="177.8" y="321.3" font-size="10.2" text-anchor="start" fill="#7a7a7a" stroke="#7a7a7a" stroke-width="0.28" font-weight="normal" font-family="Liberation Sans" font-style="normal" >MHz/GPa</text>
<text x="206.8" y="419.6" font-size="10.1" text-anchor="start" fill="#2f7fe6" stroke="#2f7fe6" stroke-width="0.28" font-weight="normal" font-family="Liberation Sans" font-style="normal" >0.33 &#177; 0.014</text>
<text x="206.8" y="431.9" font-size="10.1" text-anchor="start" fill="#2f7fe6" stroke="#2f7fe6" stroke-width="0.28" font-weight="normal" font-family="Liberation Sans" font-style="normal" >MHz/GPa</text>
<rect x="172.3" y="296.2" width="93.1" height="198.8" fill="none" stroke="#000" stroke-width="1.7"/>
<text x="281.3" y="13.3" font-size="16" text-anchor="start" fill="#000" font-weight="bold" font-family="Liberation Serif" font-style="normal" >(d)</text>
<line x1="311.8" y1="29.5" x2="314.6" y2="29.5" stroke="#000" stroke-width="1.2" />
<line x1="426.4" y1="29.5" x2="423.6" y2="29.5" stroke="#000" stroke-width="1.2" />
<line x1="311.8" y1="41.4" x2="313.6" y2="41.4" stroke="#000" stroke-width="1.2" />
<line x1="426.4" y1="41.4" x2="424.6" y2="41.4" stroke="#000" stroke-width="1.2" />
<line x1="311.8" y1="53.3" x2="314.6" y2="53.3" stroke="#000" stroke-width="1.2" />
<line x1="426.4" y1="53.3" x2="423.6" y2="53.3" stroke="#000" stroke-width="1.2" />
<line x1="311.8" y1="65.2" x2="313.6" y2="65.2" stroke="#000" stroke-width="1.2" />
<line x1="426.4" y1="65.2" x2="424.6" y2="65.2" stroke="#000" stroke-width="1.2" />
<line x1="311.8" y1="77.1" x2="314.6" y2="77.1" stroke="#000" stroke-width="1.2" />
<line x1="426.4" y1="77.1" x2="423.6" y2="77.1" stroke="#000" stroke-width="1.2" />
<line x1="319.6" y1="88.6" x2="319.6" y2="86.1" stroke="#000" stroke-width="1.1" />
<line x1="319.6" y1="17.6" x2="319.6" y2="20.1" stroke="#000" stroke-width="1.1" />
<line x1="335" y1="88.6" x2="335" y2="86.1" stroke="#000" stroke-width="1.1" />
<line x1="335" y1="17.6" x2="335" y2="20.1" stroke="#000" stroke-width="1.1" />
<line x1="350.5" y1="88.6" x2="350.5" y2="86.1" stroke="#000" stroke-width="1.1" />
<line x1="350.5" y1="17.6" x2="350.5" y2="20.1" stroke="#000" stroke-width="1.1" />
<line x1="381.7" y1="88.6" x2="381.7" y2="86.1" stroke="#000" stroke-width="1.1" />
<line x1="381.7" y1="17.6" x2="381.7" y2="20.1" stroke="#000" stroke-width="1.1" />
<line x1="397.1" y1="88.6" x2="397.1" y2="86.1" stroke="#000" stroke-width="1.1" />
<line x1="397.1" y1="17.6" x2="397.1" y2="20.1" stroke="#000" stroke-width="1.1" />
<line x1="412.4" y1="88.6" x2="412.4" y2="86.1" stroke="#000" stroke-width="1.1" />
<line x1="412.4" y1="17.6" x2="412.4" y2="20.1" stroke="#000" stroke-width="1.1" />
<text x="319.8" y="100.6" font-size="11" text-anchor="middle" fill="#1a1a1a" stroke="#1a1a1a" stroke-width="0.28" font-weight="normal" font-family="Liberation Sans" font-style="normal" >1.04</text>
<text x="351" y="100.6" font-size="11" text-anchor="middle" fill="#1a1a1a" stroke="#1a1a1a" stroke-width="0.28" font-weight="normal" font-family="Liberation Sans" font-style="normal" >1.06</text>
<text x="381.8" y="100.6" font-size="11" text-anchor="middle" fill="#1a1a1a" stroke="#1a1a1a" stroke-width="0.28" font-weight="normal" font-family="Liberation Sans" font-style="normal" >4.73</text>
<text x="412.6" y="100.6" font-size="11" text-anchor="middle" fill="#1a1a1a" stroke="#1a1a1a" stroke-width="0.28" font-weight="normal" font-family="Liberation Sans" font-style="normal" >4.75</text>
<text x="369.1" y="115" font-size="12.2" text-anchor="middle" fill="#1a1a1a" stroke="#1a1a1a" stroke-width="0.28" font-weight="normal" font-family="Liberation Sans" font-style="normal" >Frequency (GHz)</text>
<text x="290.3" y="55.4" font-size="12" text-anchor="middle" fill="#1a1a1a" stroke="#1a1a1a" stroke-width="0.28" font-weight="normal" font-family="Liberation Sans" font-style="normal" transform="rotate(-90 290.3 55.4)">Intensity</text>
<text x="304.9" y="53.5" font-size="12" text-anchor="middle" fill="#1a1a1a" stroke="#1a1a1a" stroke-width="0.28" font-weight="normal" font-family="Liberation Sans" font-style="normal" transform="rotate(-90 304.9 53.5)">(arb. units)</text>
<path d="M318.9,30.35 L321.1,30.82 L323.3,31.58 L325.5,31.6 L327.7,32.95 L329.9,34.24 L332.1,35.32 L334.3,39.32 L336.5,44.67 L338.7,50.96 L340.9,51.44 L343.1,50.28 L345.3,41.26 L347.5,35.83 L349.7,33.28 L351.9,31.24 L354.1,31.61 L356.3,30.92 L358.5,29.92 L360.7,29.51 L362.9,28.74 L365.1,28.66" fill="none" stroke="#5f5f5f" stroke-width="1.9" stroke-linejoin="round" stroke-linecap="round" />
<path d="M368.7,29.57 L370.9,29.64 L373.1,29.68 L375.3,29.31 L377.5,29.41 L379.7,30.36 L381.9,30.99 L384.1,32.39 L386.3,33.23 L388.5,34.5 L390.7,36.39 L392.9,39.91 L395.1,45.68 L397.3,52.53 L399.5,50.1 L401.7,46.73 L403.9,41.12 L406.1,37.89 L408.3,33.88 L410.5,33.46 L412.7,32.18 L414.9,31.46 L417.1,31.21 L419.3,29.68" fill="none" stroke="#5f5f5f" stroke-width="1.9" stroke-linejoin="round" stroke-linecap="round" />
<rect x="317.8" y="29.25" width="2.2" height="2.2" fill="#5f5f5f"/>
<rect x="320" y="29.72" width="2.2" height="2.2" fill="#5f5f5f"/>
<rect x="322.2" y="30.48" width="2.2" height="2.2" fill="#5f5f5f"/>
<rect x="324.4" y="30.5" width="2.2" height="2.2" fill="#5f5f5f"/>
<rect x="326.6" y="31.85" width="2.2" height="2.2" fill="#5f5f5f"/>
<rect x="328.8" y="33.14" width="2.2" height="2.2" fill="#5f5f5f"/>
<rect x="331" y="34.22" width="2.2" height="2.2" fill="#5f5f5f"/>
<rect x="333.2" y="38.22" width="2.2" height="2.2" fill="#5f5f5f"/>
<rect x="335.4" y="43.57" width="2.2" height="2.2" fill="#5f5f5f"/>
<rect x="337.6" y="49.86" width="2.2" height="2.2" fill="#5f5f5f"/>
<rect x="339.8" y="50.34" width="2.2" height="2.2" fill="#5f5f5f"/>
<rect x="342" y="49.18" width="2.2" height="2.2" fill="#5f5f5f"/>
<rect x="344.2" y="40.16" width="2.2" height="2.2" fill="#5f5f5f"/>
<rect x="346.4" y="34.73" width="2.2" height="2.2" fill="#5f5f5f"/>
<rect x="348.6" y="32.18" width="2.2" height="2.2" fill="#5f5f5f"/>
<rect x="350.8" y="30.14" width="2.2" height="2.2" fill="#5f5f5f"/>
<rect x="353" y="30.51" width="2.2" height="2.2" fill="#5f5f5f"/>
<rect x="355.2" y="29.82" width="2.2" height="2.2" fill="#5f5f5f"/>
<rect x="357.4" y="28.82" width="2.2" height="2.2" fill="#5f5f5f"/>
<rect x="359.6" y="28.41" width="2.2" height="2.2" fill="#5f5f5f"/>
<rect x="361.8" y="27.64" width="2.2" height="2.2" fill="#5f5f5f"/>
<rect x="364" y="27.56" width="2.2" height="2.2" fill="#5f5f5f"/>
<rect x="367.6" y="28.47" width="2.2" height="2.2" fill="#5f5f5f"/>
<rect x="369.8" y="28.54" width="2.2" height="2.2" fill="#5f5f5f"/>
<rect x="372" y="28.58" width="2.2" height="2.2" fill="#5f5f5f"/>
<rect x="374.2" y="28.21" width="2.2" height="2.2" fill="#5f5f5f"/>
<rect x="376.4" y="28.31" width="2.2" height="2.2" fill="#5f5f5f"/>
<rect x="378.6" y="29.26" width="2.2" height="2.2" fill="#5f5f5f"/>
<rect x="380.8" y="29.89" width="2.2" height="2.2" fill="#5f5f5f"/>
<rect x="383" y="31.29" width="2.2" height="2.2" fill="#5f5f5f"/>
<rect x="385.2" y="32.13" width="2.2" height="2.2" fill="#5f5f5f"/>
<rect x="387.4" y="33.4" width="2.2" height="2.2" fill="#5f5f5f"/>
<rect x="389.6" y="35.29" width="2.2" height="2.2" fill="#5f5f5f"/>
<rect x="391.8" y="38.81" width="2.2" height="2.2" fill="#5f5f5f"/>
<rect x="394" y="44.58" width="2.2" height="2.2" fill="#5f5f5f"/>
<rect x="396.2" y="51.43" width="2.2" height="2.2" fill="#5f5f5f"/>
<rect x="398.4" y="49" width="2.2" height="2.2" fill="#5f5f5f"/>
<rect x="400.6" y="45.63" width="2.2" height="2.2" fill="#5f5f5f"/>
<rect x="402.8" y="40.02" width="2.2" height="2.2" fill="#5f5f5f"/>
<rect x="405" y="36.79" width="2.2" height="2.2" fill="#5f5f5f"/>
<rect x="407.2" y="32.78" width="2.2" height="2.2" fill="#5f5f5f"/>
<rect x="409.4" y="32.36" width="2.2" height="2.2" fill="#5f5f5f"/>
<rect x="411.6" y="31.08" width="2.2" height="2.2" fill="#5f5f5f"/>
<rect x="413.8" y="30.36" width="2.2" height="2.2" fill="#5f5f5f"/>
<rect x="416" y="30.11" width="2.2" height="2.2" fill="#5f5f5f"/>
<rect x="418.2" y="28.58" width="2.2" height="2.2" fill="#5f5f5f"/>
<line x1="336.8" y1="58.6" x2="344.4" y2="58.6" stroke="#000" stroke-width="1.6" />
<path d="M334.8,58.6 L338.2,56 L338.2,61.2 Z" fill="#000"/>
<path d="M346.4,58.6 L343,56 L343,61.2 Z" fill="#000"/>
<line x1="395.4" y1="58.8" x2="402.7" y2="58.8" stroke="#000" stroke-width="1.6" />
<path d="M393.4,58.8 L396.8,56.2 L396.8,61.4 Z" fill="#000"/>
<path d="M404.7,58.8 L401.3,56.2 L401.3,61.4 Z" fill="#000"/>
<text x="324.2" y="70.4" font-size="9.3" text-anchor="start" fill="#1a1a1a" stroke="#1a1a1a" stroke-width="0.28" font-weight="normal" font-family="Liberation Sans" font-style="normal" >7.2 MHz</text>
<text x="381.9" y="70.4" font-size="9.3" text-anchor="start" fill="#1a1a1a" stroke="#1a1a1a" stroke-width="0.28" font-weight="normal" font-family="Liberation Sans" font-style="normal" >7.5 MHz</text>
<text x="369.1" y="84.4" font-size="11.2" text-anchor="middle" fill="#888" stroke="#888" stroke-width="0.28" font-weight="normal" font-family="Liberation Sans" font-style="normal" >1.5 GPa</text>
<rect x="311.8" y="17.6" width="114.6" height="71" fill="none" stroke="#000" stroke-width="1.7"/>
<rect x="365" y="16.6" width="2.4" height="2.0" fill="#fff"/>
<line x1="364.4" y1="20.3" x2="366.5" y2="15.3" stroke="#000" stroke-width="1.5" />
<line x1="366.7" y1="20.3" x2="368.8" y2="15.3" stroke="#000" stroke-width="1.5" />
<rect x="365" y="87.6" width="2.4" height="2.0" fill="#fff"/>
<line x1="364.4" y1="91.3" x2="366.5" y2="86.3" stroke="#000" stroke-width="1.5" />
<line x1="366.7" y1="91.3" x2="368.8" y2="86.3" stroke="#000" stroke-width="1.5" />
<text x="435.6" y="13.3" font-size="16" text-anchor="start" fill="#000" font-weight="bold" font-family="Liberation Serif" font-style="normal" >(e)</text>
<line x1="461.4" y1="28.3" x2="464.2" y2="28.3" stroke="#000" stroke-width="1.2" />
<line x1="575.9" y1="28.3" x2="573.1" y2="28.3" stroke="#000" stroke-width="1.2" />
<line x1="461.4" y1="40.3" x2="463.2" y2="40.3" stroke="#000" stroke-width="1.2" />
<line x1="575.9" y1="40.3" x2="574.1" y2="40.3" stroke="#000" stroke-width="1.2" />
<line x1="461.4" y1="52.4" x2="464.2" y2="52.4" stroke="#000" stroke-width="1.2" />
<line x1="575.9" y1="52.4" x2="573.1" y2="52.4" stroke="#000" stroke-width="1.2" />
<line x1="461.4" y1="64.5" x2="463.2" y2="64.5" stroke="#000" stroke-width="1.2" />
<line x1="575.9" y1="64.5" x2="574.1" y2="64.5" stroke="#000" stroke-width="1.2" />
<line x1="461.4" y1="76.6" x2="464.2" y2="76.6" stroke="#000" stroke-width="1.2" />
<line x1="575.9" y1="76.6" x2="573.1" y2="76.6" stroke="#000" stroke-width="1.2" />
<line x1="469.2" y1="88.4" x2="469.2" y2="86.7" stroke="#000" stroke-width="1.1" />
<line x1="469.2" y1="17.2" x2="469.2" y2="18.9" stroke="#000" stroke-width="1.1" />
<line x1="481.4" y1="88.4" x2="481.4" y2="85.8" stroke="#000" stroke-width="1.1" />
<line x1="481.4" y1="17.2" x2="481.4" y2="19.8" stroke="#000" stroke-width="1.1" />
<line x1="493.5" y1="88.4" x2="493.5" y2="86.7" stroke="#000" stroke-width="1.1" />
<line x1="493.5" y1="17.2" x2="493.5" y2="18.9" stroke="#000" stroke-width="1.1" />
<line x1="505.6" y1="88.4" x2="505.6" y2="85.8" stroke="#000" stroke-width="1.1" />
<line x1="505.6" y1="17.2" x2="505.6" y2="19.8" stroke="#000" stroke-width="1.1" />
<line x1="517.8" y1="88.4" x2="517.8" y2="86.7" stroke="#000" stroke-width="1.1" />
<line x1="517.8" y1="17.2" x2="517.8" y2="18.9" stroke="#000" stroke-width="1.1" />
<line x1="533.6" y1="88.4" x2="533.6" y2="86.7" stroke="#000" stroke-width="1.1" />
<line x1="533.6" y1="17.2" x2="533.6" y2="18.9" stroke="#000" stroke-width="1.1" />
<line x1="545.7" y1="88.4" x2="545.7" y2="85.8" stroke="#000" stroke-width="1.1" />
<line x1="545.7" y1="17.2" x2="545.7" y2="19.8" stroke="#000" stroke-width="1.1" />
<line x1="557.8" y1="88.4" x2="557.8" y2="86.7" stroke="#000" stroke-width="1.1" />
<line x1="557.8" y1="17.2" x2="557.8" y2="18.9" stroke="#000" stroke-width="1.1" />
<line x1="569.8" y1="88.4" x2="569.8" y2="85.8" stroke="#000" stroke-width="1.1" />
<line x1="569.8" y1="17.2" x2="569.8" y2="19.8" stroke="#000" stroke-width="1.1" />
<text x="481.6" y="100.6" font-size="11" text-anchor="middle" fill="#1a1a1a" stroke="#1a1a1a" stroke-width="0.28" font-weight="normal" font-family="Liberation Sans" font-style="normal" >1.92</text>
<text x="505.8" y="100.6" font-size="11" text-anchor="middle" fill="#1a1a1a" stroke="#1a1a1a" stroke-width="0.28" font-weight="normal" font-family="Liberation Sans" font-style="normal" >1.98</text>
<text x="545.6" y="100.6" font-size="11" text-anchor="middle" fill="#1a1a1a" stroke="#1a1a1a" stroke-width="0.28" font-weight="normal" font-family="Liberation Sans" font-style="normal" >5.64</text>
<text x="569.7" y="100.6" font-size="11" text-anchor="middle" fill="#1a1a1a" stroke="#1a1a1a" stroke-width="0.28" font-weight="normal" font-family="Liberation Sans" font-style="normal" >5.70</text>
<text x="518.9" y="115" font-size="12.2" text-anchor="middle" fill="#1a1a1a" stroke="#1a1a1a" stroke-width="0.28" font-weight="normal" font-family="Liberation Sans" font-style="normal" >Frequency (GHz)</text>
<text x="440.9" y="55.4" font-size="12" text-anchor="middle" fill="#1a1a1a" stroke="#1a1a1a" stroke-width="0.28" font-weight="normal" font-family="Liberation Sans" font-style="normal" transform="rotate(-90 440.9 55.4)">Intensity</text>
<text x="455.6" y="53.5" font-size="12" text-anchor="middle" fill="#1a1a1a" stroke="#1a1a1a" stroke-width="0.28" font-weight="normal" font-family="Liberation Sans" font-style="normal" transform="rotate(-90 455.6 53.5)">(arb. units)</text>
<path d="M466,29.04 L466.46,29.1 L466.93,29.15 L467.39,29.21 L467.85,29.28 L468.32,29.35 L468.78,29.42 L469.24,29.5 L469.71,29.59 L470.17,29.68 L470.63,29.78 L471.1,29.89 L471.56,30.01 L472.02,30.13 L472.49,30.27 L472.95,30.42 L473.41,30.58 L473.88,30.76 L474.34,30.96 L474.8,31.17 L475.27,31.41 L475.73,31.67 L476.19,31.97 L476.66,32.29 L477.12,32.66 L477.58,33.06 L478.05,33.52 L478.51,34.04 L478.97,34.62 L479.44,35.29 L479.9,36.05 L480.36,36.93 L480.83,37.93 L481.29,39.1 L481.75,40.45 L482.22,42.01 L482.68,43.84 L483.14,45.96 L483.61,48.42 L484.07,51.25 L484.53,54.46 L485,58 L485.46,61.79 L485.92,65.6 L486.39,69.11 L486.85,71.89 L487.31,73.51 L487.78,73.69 L488.24,72.39 L488.7,69.85 L489.17,66.48 L489.63,62.7 L490.09,58.89 L490.56,55.27 L491.02,51.98 L491.48,49.06 L491.95,46.52 L492.41,44.32 L492.87,42.42 L493.34,40.8 L493.8,39.4 L494.26,38.19 L494.73,37.15 L495.19,36.25 L495.65,35.46 L496.12,34.77 L496.58,34.17 L497.04,33.64 L497.51,33.17 L497.97,32.75 L498.43,32.37 L498.9,32.04 L499.36,31.74 L499.82,31.47 L500.29,31.23 L500.75,31.01 L501.21,30.81 L501.68,30.62 L502.14,30.46 L502.6,30.3 L503.07,30.16 L503.53,30.04 L503.99,29.92 L504.46,29.81 L504.92,29.71 L505.38,29.61 L505.85,29.52 L506.31,29.44 L506.77,29.37 L507.24,29.3 L507.7,29.23 L508.16,29.17 L508.63,29.11 L509.09,29.06 L509.55,29 L510.02,28.96 L510.48,28.91 L510.94,28.87 L511.41,28.83 L511.87,28.79 L512.33,28.75 L512.8,28.72 L513.26,28.69 L513.72,28.66 L514.19,28.63 L514.65,28.6 L515.11,28.57 L515.58,28.55 L516.04,28.53 L516.5,28.5 L516.97,28.48 L517.43,28.46 L517.89,28.44 L518.36,28.42 L518.82,28.4 L519.28,28.39 L519.75,28.37 L520.21,28.35 L520.67,28.34 L521.14,28.32 L521.6,28.31" fill="none" stroke="#eb3a3f" stroke-width="1.6" stroke-linejoin="round" stroke-linecap="round" />
<path d="M524.2,28.75 L524.58,28.78 L524.96,28.81 L525.34,28.84 L525.72,28.87 L526.1,28.91 L526.48,28.94 L526.86,28.98 L527.24,29.02 L527.62,29.06 L528,29.1 L528.38,29.14 L528.76,29.19 L529.14,29.24 L529.52,29.29 L529.9,29.34 L530.28,29.4 L530.66,29.46 L531.04,29.52 L531.42,29.59 L531.8,29.66 L532.18,29.74 L532.56,29.82 L532.94,29.9 L533.32,29.99 L533.7,30.09 L534.08,30.19 L534.46,30.3 L534.84,30.42 L535.22,30.55 L535.6,30.68 L535.98,30.83 L536.36,30.98 L536.74,31.15 L537.12,31.33 L537.5,31.53 L537.88,31.74 L538.26,31.97 L538.64,32.22 L539.02,32.49 L539.4,32.78 L539.78,33.11 L540.16,33.46 L540.54,33.86 L540.92,34.29 L541.3,34.76 L541.68,35.28 L542.06,35.87 L542.44,36.51 L542.82,37.24 L543.2,38.04 L543.58,38.95 L543.96,39.96 L544.34,41.1 L544.72,42.37 L545.1,43.81 L545.48,45.43 L545.86,47.25 L546.24,49.28 L546.62,51.54 L547,54.02 L547.38,56.72 L547.76,59.59 L548.14,62.57 L548.52,65.52 L548.9,68.3 L549.28,70.71 L549.66,72.53 L550.04,73.59 L550.42,73.75 L550.8,73.02 L551.18,71.46 L551.56,69.24 L551.94,66.58 L552.32,63.67 L552.7,60.68 L553.08,57.76 L553.46,54.99 L553.84,52.43 L554.22,50.09 L554.6,47.97 L554.98,46.08 L555.36,44.39 L555.74,42.88 L556.12,41.55 L556.5,40.36 L556.88,39.3 L557.26,38.36 L557.64,37.52 L558.02,36.77 L558.4,36.1 L558.78,35.49 L559.16,34.95 L559.54,34.45 L559.92,34.01 L560.3,33.6 L560.68,33.24 L561.06,32.9 L561.44,32.59 L561.82,32.31 L562.2,32.06 L562.58,31.82 L562.96,31.6 L563.34,31.4 L563.72,31.21 L564.1,31.04 L564.48,30.88 L564.86,30.73 L565.24,30.6 L565.62,30.47 L566,30.35 L566.38,30.23 L566.76,30.13 L567.14,30.03 L567.52,29.94 L567.9,29.85 L568.28,29.77 L568.66,29.69 L569.04,29.62 L569.42,29.55 L569.8,29.48" fill="none" stroke="#eb3a3f" stroke-width="1.6" stroke-linejoin="round" stroke-linecap="round" />
<circle cx="466.3" cy="33.7" r="1.45" fill="#eb3a3f"/>
<circle cx="467.3" cy="29" r="1.45" fill="#eb3a3f"/>
<circle cx="470" cy="28.3" r="1.45" fill="#eb3a3f"/>
<circle cx="472.7" cy="31" r="1.45" fill="#eb3a3f"/>
<circle cx="474" cy="25" r="1.45" fill="#eb3a3f"/>
<circle cx="476" cy="26.3" r="1.45" fill="#eb3a3f"/>
<circle cx="478" cy="33" r="1.45" fill="#eb3a3f"/>
<circle cx="479.3" cy="40.3" r="1.45" fill="#eb3a3f"/>
<circle cx="481.3" cy="41.7" r="1.45" fill="#eb3a3f"/>
<circle cx="482.7" cy="56.3" r="1.45" fill="#eb3a3f"/>
<circle cx="484" cy="59.7" r="1.45" fill="#eb3a3f"/>
<circle cx="486" cy="61.7" r="1.45" fill="#eb3a3f"/>
<circle cx="487.6" cy="73.7" r="1.45" fill="#eb3a3f"/>
<circle cx="489.3" cy="69.7" r="1.45" fill="#eb3a3f"/>
<circle cx="490.7" cy="59.7" r="1.45" fill="#eb3a3f"/>
<circle cx="493" cy="53" r="1.45" fill="#eb3a3f"/>
<circle cx="495.3" cy="45" r="1.45" fill="#eb3a3f"/>
<circle cx="497.3" cy="33" r="1.45" fill="#eb3a3f"/>
<circle cx="500.4" cy="23.7" r="1.45" fill="#eb3a3f"/>
<circle cx="504.7" cy="23.7" r="1.45" fill="#eb3a3f"/>
<circle cx="502" cy="31.7" r="1.45" fill="#eb3a3f"/>
<circle cx="505.3" cy="33" r="1.45" fill="#eb3a3f"/>
<circle cx="509.3" cy="33" r="1.45" fill="#eb3a3f"/>
<circle cx="512" cy="33.7" r="1.45" fill="#eb3a3f"/>
<circle cx="514" cy="27.7" r="1.45" fill="#eb3a3f"/>
<circle cx="529.7" cy="25.7" r="1.45" fill="#eb3a3f"/>
<circle cx="534.3" cy="24.3" r="1.45" fill="#eb3a3f"/>
<circle cx="539" cy="26.3" r="1.45" fill="#eb3a3f"/>
<circle cx="531.7" cy="31" r="1.45" fill="#eb3a3f"/>
<circle cx="536.3" cy="29" r="1.45" fill="#eb3a3f"/>
<circle cx="538.3" cy="33" r="1.45" fill="#eb3a3f"/>
<circle cx="541.7" cy="35.7" r="1.45" fill="#eb3a3f"/>
<circle cx="543" cy="41" r="1.45" fill="#eb3a3f"/>
<circle cx="545" cy="47.7" r="1.45" fill="#eb3a3f"/>
<circle cx="545.7" cy="53.7" r="1.45" fill="#eb3a3f"/>
<circle cx="547" cy="60.3" r="1.45" fill="#eb3a3f"/>
<circle cx="550.3" cy="73.7" r="1.45" fill="#eb3a3f"/>
<circle cx="551.7" cy="59.7" r="1.45" fill="#eb3a3f"/>
<circle cx="553.7" cy="51" r="1.45" fill="#eb3a3f"/>
<circle cx="555" cy="38.3" r="1.45" fill="#eb3a3f"/>
<circle cx="557.7" cy="35" r="1.45" fill="#eb3a3f"/>
<circle cx="559" cy="36.3" r="1.45" fill="#eb3a3f"/>
<circle cx="560.3" cy="25.7" r="1.45" fill="#eb3a3f"/>
<circle cx="562.3" cy="30.3" r="1.45" fill="#eb3a3f"/>
<circle cx="566.3" cy="33.7" r="1.45" fill="#eb3a3f"/>
<circle cx="568.3" cy="37.7" r="1.45" fill="#eb3a3f"/>
<circle cx="569.7" cy="29.7" r="1.45" fill="#eb3a3f"/>
<line x1="485.3" y1="50.2" x2="490.7" y2="50.2" stroke="#000" stroke-width="1.6" />
<path d="M483.3,50.2 L486.7,47.6 L486.7,52.8 Z" fill="#000"/>
<path d="M492.7,50.2 L489.3,47.6 L489.3,52.8 Z" fill="#000"/>
<line x1="547.2" y1="49" x2="552.4" y2="49" stroke="#000" stroke-width="1.6" />
<path d="M545.2,49 L548.6,46.4 L548.6,51.6 Z" fill="#000"/>
<path d="M554.4,49 L551,46.4 L551,51.6 Z" fill="#000"/>
<text x="504.3" y="48.4" font-size="9.3" text-anchor="start" fill="#1a1a1a" stroke="#1a1a1a" stroke-width="0.28" font-weight="normal" font-family="Liberation Sans" font-style="normal" >20.4 MHz</text>
<text x="494.2" y="64.2" font-size="9.3" text-anchor="start" fill="#1a1a1a" stroke="#1a1a1a" stroke-width="0.28" font-weight="normal" font-family="Liberation Sans" font-style="normal" >24.7 MHz</text>
<text x="519.1" y="84.4" font-size="11.2" text-anchor="middle" fill="#eb3a3f" stroke="#eb3a3f" stroke-width="0.28" font-weight="normal" font-family="Liberation Sans" font-style="normal" >128.6 GPa</text>
<rect x="461.4" y="17.2" width="114.5" height="71.2" fill="none" stroke="#000" stroke-width="1.7"/>
<rect x="521.2" y="16.2" width="2.4" height="2.0" fill="#fff"/>
<line x1="520.6" y1="19.9" x2="522.7" y2="14.9" stroke="#000" stroke-width="1.5" />
<line x1="522.9" y1="19.9" x2="525" y2="14.9" stroke="#000" stroke-width="1.5" />
<rect x="521.2" y="87.4" width="2.4" height="2.0" fill="#fff"/>
<line x1="520.6" y1="91.1" x2="522.7" y2="86.1" stroke="#000" stroke-width="1.5" />
<line x1="522.9" y1="91.1" x2="525" y2="86.1" stroke="#000" stroke-width="1.5" />
<text x="284.6" y="137.6" font-size="16" text-anchor="start" fill="#000" font-weight="bold" font-family="Liberation Serif" font-style="normal" >(f)</text>
<line x1="322.3" y1="140.4" x2="572" y2="140.4" stroke="#707070" stroke-width="1.3" />
<rect x="327.7" y="125.2" width="59.2" height="14.6" fill="#10a68a"/>
<rect x="402.3" y="125.2" width="82.6" height="14.6" fill="#ffbe00"/>
<rect x="502.6" y="125.2" width="58.9" height="14.6" fill="#fb8b7c"/>
<text x="357.4" y="137.1" font-size="12.6" text-anchor="middle" fill="#fff" font-weight="normal" font-family="Liberation Sans" font-style="normal" >Initialize</text>
<text x="443.6" y="137.1" font-size="12.6" text-anchor="middle" fill="#fff" font-weight="normal" font-family="Liberation Sans" font-style="normal" >MW pulse</text>
<text x="532.1" y="137.1" font-size="12.6" text-anchor="middle" fill="#fff" font-weight="normal" font-family="Liberation Sans" font-style="normal" >Readout</text>
<line x1="331.4" y1="232.1" x2="331.4" y2="229.1" stroke="#000" stroke-width="1.2" />
<line x1="331.4" y1="146.1" x2="331.4" y2="149.1" stroke="#000" stroke-width="1.2" />
<line x1="360.71" y1="232.1" x2="360.71" y2="230.1" stroke="#000" stroke-width="1.2" />
<line x1="360.71" y1="146.1" x2="360.71" y2="148.1" stroke="#000" stroke-width="1.2" />
<line x1="390.02" y1="232.1" x2="390.02" y2="229.1" stroke="#000" stroke-width="1.2" />
<line x1="390.02" y1="146.1" x2="390.02" y2="149.1" stroke="#000" stroke-width="1.2" />
<line x1="419.34" y1="232.1" x2="419.34" y2="230.1" stroke="#000" stroke-width="1.2" />
<line x1="419.34" y1="146.1" x2="419.34" y2="148.1" stroke="#000" stroke-width="1.2" />
<line x1="448.65" y1="232.1" x2="448.65" y2="229.1" stroke="#000" stroke-width="1.2" />
<line x1="448.65" y1="146.1" x2="448.65" y2="149.1" stroke="#000" stroke-width="1.2" />
<line x1="477.96" y1="232.1" x2="477.96" y2="230.1" stroke="#000" stroke-width="1.2" />
<line x1="477.96" y1="146.1" x2="477.96" y2="148.1" stroke="#000" stroke-width="1.2" />
<line x1="507.27" y1="232.1" x2="507.27" y2="229.1" stroke="#000" stroke-width="1.2" />
<line x1="507.27" y1="146.1" x2="507.27" y2="149.1" stroke="#000" stroke-width="1.2" />
<line x1="536.59" y1="232.1" x2="536.59" y2="230.1" stroke="#000" stroke-width="1.2" />
<line x1="536.59" y1="146.1" x2="536.59" y2="148.1" stroke="#000" stroke-width="1.2" />
<line x1="565.9" y1="232.1" x2="565.9" y2="229.1" stroke="#000" stroke-width="1.2" />
<line x1="565.9" y1="146.1" x2="565.9" y2="149.1" stroke="#000" stroke-width="1.2" />
<text x="331.4" y="244.3" font-size="11" text-anchor="middle" fill="#1a1a1a" stroke="#1a1a1a" stroke-width="0.28" font-weight="normal" font-family="Liberation Sans" font-style="normal" >0</text>
<text x="390.02" y="244.3" font-size="11" text-anchor="middle" fill="#1a1a1a" stroke="#1a1a1a" stroke-width="0.28" font-weight="normal" font-family="Liberation Sans" font-style="normal" >50</text>
<text x="448.65" y="244.3" font-size="11" text-anchor="middle" fill="#1a1a1a" stroke="#1a1a1a" stroke-width="0.28" font-weight="normal" font-family="Liberation Sans" font-style="normal" >100</text>
<text x="507.27" y="244.3" font-size="11" text-anchor="middle" fill="#1a1a1a" stroke="#1a1a1a" stroke-width="0.28" font-weight="normal" font-family="Liberation Sans" font-style="normal" >150</text>
<text x="565.9" y="244.3" font-size="11" text-anchor="middle" fill="#1a1a1a" stroke="#1a1a1a" stroke-width="0.28" font-weight="normal" font-family="Liberation Sans" font-style="normal" >200</text>
<line x1="313.2" y1="146.81" x2="315.2" y2="146.81" stroke="#000" stroke-width="1.2" />
<line x1="578.7" y1="146.81" x2="576.7" y2="146.81" stroke="#000" stroke-width="1.2" />
<line x1="313.2" y1="157.4" x2="316.2" y2="157.4" stroke="#000" stroke-width="1.2" />
<line x1="578.7" y1="157.4" x2="575.7" y2="157.4" stroke="#000" stroke-width="1.2" />
<line x1="313.2" y1="167.98" x2="315.2" y2="167.98" stroke="#000" stroke-width="1.2" />
<line x1="578.7" y1="167.98" x2="576.7" y2="167.98" stroke="#000" stroke-width="1.2" />
<line x1="313.2" y1="178.57" x2="316.2" y2="178.57" stroke="#000" stroke-width="1.2" />
<line x1="578.7" y1="178.57" x2="575.7" y2="178.57" stroke="#000" stroke-width="1.2" />
<line x1="313.2" y1="189.15" x2="315.2" y2="189.15" stroke="#000" stroke-width="1.2" />
<line x1="578.7" y1="189.15" x2="576.7" y2="189.15" stroke="#000" stroke-width="1.2" />
<line x1="313.2" y1="199.74" x2="316.2" y2="199.74" stroke="#000" stroke-width="1.2" />
<line x1="578.7" y1="199.74" x2="575.7" y2="199.74" stroke="#000" stroke-width="1.2" />
<line x1="313.2" y1="210.32" x2="315.2" y2="210.32" stroke="#000" stroke-width="1.2" />
<line x1="578.7" y1="210.32" x2="576.7" y2="210.32" stroke="#000" stroke-width="1.2" />
<line x1="313.2" y1="220.91" x2="316.2" y2="220.91" stroke="#000" stroke-width="1.2" />
<line x1="578.7" y1="220.91" x2="575.7" y2="220.91" stroke="#000" stroke-width="1.2" />
<line x1="313.2" y1="231.5" x2="315.2" y2="231.5" stroke="#000" stroke-width="1.2" />
<line x1="578.7" y1="231.5" x2="576.7" y2="231.5" stroke="#000" stroke-width="1.2" />
<text x="309.9" y="161.3" font-size="11" text-anchor="end" fill="#1a1a1a" stroke="#1a1a1a" stroke-width="0.28" font-weight="normal" font-family="Liberation Sans" font-style="normal" >1.0</text>
<text x="309.9" y="182.47" font-size="11" text-anchor="end" fill="#1a1a1a" stroke="#1a1a1a" stroke-width="0.28" font-weight="normal" font-family="Liberation Sans" font-style="normal" >0.9</text>
<text x="309.9" y="203.64" font-size="11" text-anchor="end" fill="#1a1a1a" stroke="#1a1a1a" stroke-width="0.28" font-weight="normal" font-family="Liberation Sans" font-style="normal" >0.8</text>
<text x="309.9" y="224.81" font-size="11" text-anchor="end" fill="#1a1a1a" stroke="#1a1a1a" stroke-width="0.28" font-weight="normal" font-family="Liberation Sans" font-style="normal" >0.7</text>
<text x="446.3" y="253.7" font-size="12.2" text-anchor="middle" fill="#1a1a1a" stroke="#1a1a1a" stroke-width="0.28" font-weight="normal" font-family="Liberation Sans" font-style="normal" >MW pulse duration (ns)</text>
<text x="291.4" y="188.7" font-size="12.3" text-anchor="middle" fill="#1a1a1a" stroke="#1a1a1a" stroke-width="0.28" font-weight="normal" font-family="Liberation Sans" font-style="normal" transform="rotate(-90 291.4 188.7)">FL contrast</text>
<path d="M336.3,157.61 L337.05,157.6 L337.8,157.62 L338.55,157.67 L339.3,157.76 L340.05,157.88 L340.8,158.03 L341.55,158.22 L342.3,158.43 L343.05,158.67 L343.8,158.94 L344.55,159.23 L345.3,159.55 L346.05,159.88 L346.8,160.24 L347.55,160.61 L348.3,160.99 L349.05,161.38 L349.8,161.78 L350.55,162.18 L351.3,162.59 L352.05,162.99 L352.8,163.39 L353.55,163.79 L354.3,164.17 L355.05,164.54 L355.8,164.89 L356.55,165.23 L357.3,165.55 L358.05,165.84 L358.8,166.11 L359.55,166.36 L360.3,166.57 L361.05,166.76 L361.8,166.91 L362.55,167.03 L363.3,167.12 L364.05,167.18 L364.8,167.2 L365.55,167.19 L366.3,167.14 L367.05,167.06 L367.8,166.95 L368.55,166.8 L369.3,166.62 L370.05,166.42 L370.8,166.18 L371.55,165.92 L372.3,165.63 L373.05,165.32 L373.8,164.98 L374.55,164.63 L375.3,164.27 L376.05,163.89 L376.8,163.5 L377.55,163.1 L378.3,162.7 L379.05,162.29 L379.8,161.89 L380.55,161.49 L381.3,161.09 L382.05,160.71 L382.8,160.33 L383.55,159.98 L384.3,159.64 L385.05,159.31 L385.8,159.02 L386.55,158.74 L387.3,158.49 L388.05,158.27 L388.8,158.08 L389.55,157.92 L390.3,157.79 L391.05,157.69 L391.8,157.63 L392.55,157.6 L393.3,157.61 L394.05,157.65 L394.8,157.72 L395.55,157.83 L396.3,157.97 L397.05,158.14 L397.8,158.34 L398.55,158.57 L399.3,158.83 L400.05,159.11 L400.8,159.42 L401.55,159.75 L402.3,160.09 L403.05,160.46 L403.8,160.83 L404.55,161.22 L405.3,161.62 L406.05,162.02 L406.8,162.43 L407.55,162.83 L408.3,163.23 L409.05,163.63 L409.8,164.02 L410.55,164.39 L411.3,164.75 L412.05,165.1 L412.8,165.42 L413.55,165.73 L414.3,166.01 L415.05,166.26 L415.8,166.49 L416.55,166.69 L417.3,166.85 L418.05,166.99 L418.8,167.09 L419.55,167.16 L420.3,167.2 L421.05,167.2 L421.8,167.16 L422.55,167.1 L423.3,167 L424.05,166.86 L424.8,166.7 L425.55,166.5 L426.3,166.28 L427.05,166.02 L427.8,165.75 L428.55,165.44 L429.3,165.12 L430.05,164.78 L430.8,164.42 L431.55,164.04 L432.3,163.66 L433.05,163.26 L433.8,162.86 L434.55,162.45 L435.3,162.05 L436.05,161.65 L436.8,161.25 L437.55,160.86 L438.3,160.48 L439.05,160.12 L439.8,159.77 L440.55,159.44 L441.3,159.13 L442.05,158.85 L442.8,158.59 L443.55,158.36 L444.3,158.15 L445.05,157.98 L445.8,157.84 L446.55,157.73 L447.3,157.65 L448.05,157.61 L448.8,157.6 L449.55,157.63 L450.3,157.69 L451.05,157.78 L451.8,157.91 L452.55,158.07 L453.3,158.26 L454.05,158.48 L454.8,158.72 L455.55,159 L456.3,159.29 L457.05,159.61 L457.8,159.95 L458.55,160.31 L459.3,160.68 L460.05,161.07 L460.8,161.46 L461.55,161.86 L462.3,162.26 L463.05,162.67 L463.8,163.07 L464.55,163.47 L465.3,163.86 L466.05,164.24 L466.8,164.61 L467.55,164.96 L468.3,165.3 L469.05,165.61 L469.8,165.9 L470.55,166.16 L471.3,166.4 L472.05,166.61 L472.8,166.79 L473.55,166.94 L474.3,167.05 L475.05,167.14 L475.8,167.19 L476.55,167.2 L477.3,167.18 L478.05,167.13 L478.8,167.04 L479.55,166.92 L480.3,166.77 L481.05,166.58 L481.8,166.37 L482.55,166.13 L483.3,165.86 L484.05,165.57 L484.8,165.25 L485.55,164.92 L486.3,164.56 L487.05,164.19 L487.8,163.81 L488.55,163.42 L489.3,163.02 L490.05,162.62 L490.8,162.21 L491.55,161.81 L492.3,161.41 L493.05,161.01 L493.8,160.63 L494.55,160.26 L495.3,159.91 L496.05,159.57 L496.8,159.25 L497.55,158.96 L498.3,158.69 L499.05,158.44 L499.8,158.23 L500.55,158.04 L501.3,157.89 L502.05,157.77 L502.8,157.68 L503.55,157.62 L504.3,157.6 L505.05,157.61 L505.8,157.66 L506.55,157.74 L507.3,157.85 L508.05,158 L508.8,158.18 L509.55,158.38 L510.3,158.62 L511.05,158.88 L511.8,159.17 L512.55,159.48 L513.3,159.82 L514.05,160.17 L514.8,160.53 L515.55,160.91 L516.3,161.3 L517.05,161.7 L517.8,162.1 L518.55,162.51 L519.3,162.91 L520.05,163.31 L520.8,163.71 L521.55,164.09 L522.3,164.47 L523.05,164.82 L523.8,165.16 L524.55,165.49 L525.3,165.78 L526.05,166.06 L526.8,166.31 L527.55,166.53 L528.3,166.72 L529.05,166.88 L529.8,167.01 L530.55,167.11 L531.3,167.17 L532.05,167.2 L532.8,167.19 L533.55,167.15 L534.3,167.08 L535.05,166.97 L535.8,166.83 L536.55,166.66 L537.3,166.46 L538.05,166.23 L538.8,165.97 L539.55,165.69 L540.3,165.38 L541.05,165.05 L541.8,164.71 L542.55,164.34 L543.3,163.97 L544.05,163.58 L544.8,163.18 L545.55,162.78 L546.3,162.37 L547.05,161.97 L547.8,161.57 L548.55,161.17 L549.3,160.78 L550.05,160.41 L550.8,160.05 L551.55,159.7 L552.3,159.38 L553.05,159.07 L553.8,158.79 L554.55,158.54 L555.3,158.31 L556.05,158.11 L556.8,157.95 L557.55,157.81 L558.3,157.71 L559.05,157.64 L559.8,157.6 L560.55,157.6 L561.3,157.64 L562.05,157.7 L562.8,157.8" fill="none" stroke="#4b4b4b" stroke-width="1.8" stroke-linejoin="round" stroke-linecap="round" />
<rect x="335" y="156.1" width="2.6" height="2.6" fill="#4b4b4b"/>
<rect x="340.86" y="156.67" width="2.6" height="2.6" fill="#4b4b4b"/>
<rect x="346.72" y="159.73" width="2.6" height="2.6" fill="#4b4b4b"/>
<rect x="352.58" y="162.14" width="2.6" height="2.6" fill="#4b4b4b"/>
<rect x="358.44" y="165.16" width="2.6" height="2.6" fill="#4b4b4b"/>
<rect x="364.3" y="165.72" width="2.6" height="2.6" fill="#4b4b4b"/>
<rect x="370.16" y="164.12" width="2.6" height="2.6" fill="#4b4b4b"/>
<rect x="376.02" y="161.93" width="2.6" height="2.6" fill="#4b4b4b"/>
<rect x="381.88" y="158.3" width="2.6" height="2.6" fill="#4b4b4b"/>
<rect x="387.74" y="156.64" width="2.6" height="2.6" fill="#4b4b4b"/>
<rect x="393.6" y="155.92" width="2.6" height="2.6" fill="#4b4b4b"/>
<rect x="399.46" y="157.61" width="2.6" height="2.6" fill="#4b4b4b"/>
<rect x="405.32" y="160.94" width="2.6" height="2.6" fill="#4b4b4b"/>
<rect x="411.18" y="164.38" width="2.6" height="2.6" fill="#4b4b4b"/>
<rect x="417.04" y="165.28" width="2.6" height="2.6" fill="#4b4b4b"/>
<rect x="422.9" y="165.2" width="2.6" height="2.6" fill="#4b4b4b"/>
<rect x="428.76" y="163.62" width="2.6" height="2.6" fill="#4b4b4b"/>
<rect x="434.62" y="160.95" width="2.6" height="2.6" fill="#4b4b4b"/>
<rect x="440.48" y="157.74" width="2.6" height="2.6" fill="#4b4b4b"/>
<rect x="446.34" y="156.2" width="2.6" height="2.6" fill="#4b4b4b"/>
<rect x="452.2" y="157.58" width="2.6" height="2.6" fill="#4b4b4b"/>
<rect x="458.06" y="158.87" width="2.6" height="2.6" fill="#4b4b4b"/>
<rect x="463.92" y="162.95" width="2.6" height="2.6" fill="#4b4b4b"/>
<rect x="469.78" y="164.78" width="2.6" height="2.6" fill="#4b4b4b"/>
<rect x="475.64" y="165.47" width="2.6" height="2.6" fill="#4b4b4b"/>
<rect x="481.5" y="164.28" width="2.6" height="2.6" fill="#4b4b4b"/>
<rect x="487.36" y="161.83" width="2.6" height="2.6" fill="#4b4b4b"/>
<rect x="493.22" y="159.36" width="2.6" height="2.6" fill="#4b4b4b"/>
<rect x="499.08" y="156.4" width="2.6" height="2.6" fill="#4b4b4b"/>
<rect x="504.94" y="156.5" width="2.6" height="2.6" fill="#4b4b4b"/>
<rect x="510.8" y="158.16" width="2.6" height="2.6" fill="#4b4b4b"/>
<rect x="516.66" y="160.74" width="2.6" height="2.6" fill="#4b4b4b"/>
<rect x="522.52" y="163.93" width="2.6" height="2.6" fill="#4b4b4b"/>
<rect x="528.38" y="165.17" width="2.6" height="2.6" fill="#4b4b4b"/>
<rect x="534.24" y="165.06" width="2.6" height="2.6" fill="#4b4b4b"/>
<rect x="540.1" y="163.24" width="2.6" height="2.6" fill="#4b4b4b"/>
<rect x="545.96" y="160.77" width="2.6" height="2.6" fill="#4b4b4b"/>
<rect x="551.82" y="157.66" width="2.6" height="2.6" fill="#4b4b4b"/>
<rect x="557.68" y="156.12" width="2.6" height="2.6" fill="#4b4b4b"/>
<path d="M338.4,158.61 L339.15,159.24 L339.9,160.09 L340.65,161.14 L341.4,162.38 L342.15,163.8 L342.9,165.39 L343.65,167.15 L344.4,169.04 L345.15,171.07 L345.9,173.21 L346.65,175.45 L347.4,177.77 L348.15,180.15 L348.9,182.58 L349.65,185.04 L350.4,187.51 L351.15,189.97 L351.9,192.41 L352.65,194.81 L353.4,197.15 L354.15,199.42 L354.9,201.59 L355.65,203.67 L356.4,205.62 L357.15,207.44 L357.9,209.12 L358.65,210.64 L359.4,212 L360.15,213.19 L360.9,214.2 L361.65,215.02 L362.4,215.66 L363.15,216.1 L363.9,216.34 L364.65,216.39 L365.4,216.25 L366.15,215.91 L366.9,215.39 L367.65,214.69 L368.4,213.81 L369.15,212.76 L369.9,211.55 L370.65,210.2 L371.4,208.7 L372.15,207.08 L372.9,205.34 L373.65,203.5 L374.4,201.58 L375.15,199.58 L375.9,197.52 L376.65,195.42 L377.4,193.29 L378.15,191.15 L378.9,189.01 L379.65,186.88 L380.4,184.8 L381.15,182.75 L381.9,180.77 L382.65,178.87 L383.4,177.05 L384.15,175.33 L384.9,173.72 L385.65,172.24 L386.4,170.89 L387.15,169.67 L387.9,168.61 L388.65,167.7 L389.4,166.95 L390.15,166.36 L390.9,165.94 L391.65,165.68 L392.4,165.6 L393.15,165.68 L393.9,165.93 L394.65,166.34 L395.4,166.91 L396.15,167.63 L396.9,168.5 L397.65,169.5 L398.4,170.64 L399.15,171.9 L399.9,173.28 L400.65,174.75 L401.4,176.31 L402.15,177.96 L402.9,179.66 L403.65,181.42 L404.4,183.23 L405.15,185.05 L405.9,186.89 L406.65,188.74 L407.4,190.57 L408.15,192.37 L408.9,194.13 L409.65,195.85 L410.4,197.5 L411.15,199.08 L411.9,200.57 L412.65,201.97 L413.4,203.27 L414.15,204.45 L414.9,205.52 L415.65,206.46 L416.4,207.26 L417.15,207.93 L417.9,208.46 L418.65,208.84 L419.4,209.08 L420.15,209.18 L420.9,209.13 L421.65,208.94 L422.4,208.6 L423.15,208.13 L423.9,207.52 L424.65,206.79 L425.4,205.93 L426.15,204.96 L426.9,203.88 L427.65,202.71 L428.4,201.44 L429.15,200.1 L429.9,198.68 L430.65,197.21 L431.4,195.69 L432.15,194.13 L432.9,192.55 L433.65,190.95 L434.4,189.35 L435.15,187.75 L435.9,186.18 L436.65,184.64 L437.4,183.14 L438.15,181.69 L438.9,180.31 L439.65,178.99 L440.4,177.76 L441.15,176.61 L441.9,175.56 L442.65,174.61 L443.4,173.77 L444.15,173.04 L444.9,172.43 L445.65,171.94 L446.4,171.58 L447.15,171.33 L447.9,171.22 L448.65,171.23 L449.4,171.36 L450.15,171.62 L450.9,172 L451.65,172.49 L452.4,173.09 L453.15,173.8 L453.9,174.62 L454.65,175.52 L455.4,176.51 L456.15,177.58 L456.9,178.72 L457.65,179.92 L458.4,181.18 L459.15,182.48 L459.9,183.81 L460.65,185.17 L461.4,186.54 L462.15,187.91 L462.9,189.28 L463.65,190.64 L464.4,191.97 L465.15,193.26 L465.9,194.52 L466.65,195.72 L467.4,196.86 L468.15,197.93 L468.9,198.93 L469.65,199.85 L470.4,200.68 L471.15,201.41 L471.9,202.05 L472.65,202.59 L473.4,203.03 L474.15,203.36 L474.9,203.58 L475.65,203.69 L476.4,203.7 L477.15,203.59 L477.9,203.38 L478.65,203.07 L479.4,202.66 L480.15,202.15 L480.9,201.54 L481.65,200.85 L482.4,200.07 L483.15,199.22 L483.9,198.3 L484.65,197.32 L485.4,196.28 L486.15,195.2 L486.9,194.08 L487.65,192.92 L488.4,191.74 L489.15,190.55 L489.9,189.36 L490.65,188.16 L491.4,186.98 L492.15,185.82 L492.9,184.68 L493.65,183.58 L494.4,182.53 L495.15,181.52 L495.9,180.58 L496.65,179.69 L497.4,178.88 L498.15,178.14 L498.9,177.47 L499.65,176.9 L500.4,176.4 L501.15,176 L501.9,175.69 L502.65,175.47 L503.4,175.35 L504.15,175.31 L504.9,175.38 L505.65,175.53 L506.4,175.78 L507.15,176.11 L507.9,176.53 L508.65,177.02 L509.4,177.6 L510.15,178.24 L510.9,178.96 L511.65,179.73 L512.4,180.56 L513.15,181.44 L513.9,182.36 L514.65,183.32 L515.4,184.31 L516.15,185.31 L516.9,186.33 L517.65,187.36 L518.4,188.38 L519.15,189.4 L519.9,190.4 L520.65,191.37 L521.4,192.32 L522.15,193.23 L522.9,194.1 L523.65,194.92 L524.4,195.69 L525.15,196.4 L525.9,197.04 L526.65,197.62 L527.4,198.13 L528.15,198.56 L528.9,198.91 L529.65,199.19 L530.4,199.39 L531.15,199.5 L531.9,199.54 L532.65,199.49 L533.4,199.36 L534.15,199.16 L534.9,198.88 L535.65,198.53 L536.4,198.1 L537.15,197.61 L537.9,197.05 L538.65,196.44 L539.4,195.77 L540.15,195.05 L540.9,194.29 L541.65,193.5 L542.4,192.67 L543.15,191.81 L543.9,190.94 L544.65,190.05 L545.4,189.16 L546.15,188.26 L546.9,187.38 L547.65,186.5 L548.4,185.64 L549.15,184.81 L549.9,184.01 L550.65,183.24 L551.4,182.51 L552.15,181.83 L552.9,181.2 L553.65,180.63 L554.4,180.11 L555.15,179.65 L555.9,179.25 L556.65,178.92 L557.4,178.66 L558.15,178.47 L558.9,178.35 L559.65,178.3 L560.4,178.31 L561.15,178.4 L561.9,178.55 L562.65,178.78 L563.4,179.06" fill="none" stroke="#e8383d" stroke-width="1.6" stroke-linejoin="round" stroke-linecap="round" />
<circle cx="342.86" cy="165.48" r="1.6" fill="#e8383d"/>
<circle cx="348.72" cy="181.9" r="1.6" fill="#e8383d"/>
<circle cx="354.58" cy="200.28" r="1.6" fill="#e8383d"/>
<circle cx="360.44" cy="214.19" r="1.6" fill="#e8383d"/>
<circle cx="366.3" cy="216.22" r="1.6" fill="#e8383d"/>
<circle cx="372.16" cy="206.55" r="1.6" fill="#e8383d"/>
<circle cx="378.02" cy="191.67" r="1.6" fill="#e8383d"/>
<circle cx="383.88" cy="175.99" r="1.6" fill="#e8383d"/>
<circle cx="389.74" cy="167.41" r="1.6" fill="#e8383d"/>
<circle cx="395.6" cy="167.54" r="1.6" fill="#e8383d"/>
<circle cx="401.46" cy="176.02" r="1.6" fill="#e8383d"/>
<circle cx="407.32" cy="191.33" r="1.6" fill="#e8383d"/>
<circle cx="413.18" cy="202.14" r="1.6" fill="#e8383d"/>
<circle cx="419.04" cy="208.82" r="1.6" fill="#e8383d"/>
<circle cx="424.9" cy="207.03" r="1.6" fill="#e8383d"/>
<circle cx="430.76" cy="196.29" r="1.6" fill="#e8383d"/>
<circle cx="436.62" cy="184.68" r="1.6" fill="#e8383d"/>
<circle cx="442.48" cy="173.89" r="1.6" fill="#e8383d"/>
<circle cx="448.34" cy="171.55" r="1.6" fill="#e8383d"/>
<circle cx="454.2" cy="175.5" r="1.6" fill="#e8383d"/>
<circle cx="460.06" cy="184.25" r="1.6" fill="#e8383d"/>
<circle cx="465.92" cy="195.3" r="1.6" fill="#e8383d"/>
<circle cx="471.78" cy="201.58" r="1.6" fill="#e8383d"/>
<circle cx="477.64" cy="203.86" r="1.6" fill="#e8383d"/>
<circle cx="483.5" cy="198.99" r="1.6" fill="#e8383d"/>
<circle cx="489.36" cy="190.38" r="1.6" fill="#e8383d"/>
<circle cx="495.22" cy="181.35" r="1.6" fill="#e8383d"/>
<circle cx="501.08" cy="176.71" r="1.6" fill="#e8383d"/>
<circle cx="506.94" cy="176.9" r="1.6" fill="#e8383d"/>
<circle cx="512.8" cy="180.98" r="1.6" fill="#e8383d"/>
<circle cx="518.66" cy="189.06" r="1.6" fill="#e8383d"/>
<circle cx="524.52" cy="194.93" r="1.6" fill="#e8383d"/>
<circle cx="530.38" cy="199.79" r="1.6" fill="#e8383d"/>
<circle cx="536.24" cy="198.49" r="1.6" fill="#e8383d"/>
<circle cx="542.1" cy="193.99" r="1.6" fill="#e8383d"/>
<circle cx="547.96" cy="186.79" r="1.6" fill="#e8383d"/>
<circle cx="553.82" cy="180.07" r="1.6" fill="#e8383d"/>
<circle cx="559.68" cy="178.07" r="1.6" fill="#e8383d"/>
<circle cx="337" cy="154.7" r="1.4" fill="#e8383d"/>
<text x="318.1" y="177.6" font-size="11" text-anchor="start" fill="#666" stroke="#666" stroke-width="0.28" font-weight="normal" font-family="Liberation Sans" font-style="normal" >4.6%</text>
<text x="318.1" y="224.1" font-size="11" text-anchor="start" fill="#e8383d" stroke="#e8383d" stroke-width="0.28" font-weight="normal" font-family="Liberation Sans" font-style="normal" >29.8%</text>
<line x1="414.6" y1="220.2" x2="438.7" y2="220.2" stroke="#4b4b4b" stroke-width="1.8" />
<text x="442.5" y="224.5" font-size="11" text-anchor="start" fill="#1a1a1a" stroke="#1a1a1a" stroke-width="0.28" font-weight="normal" font-family="Liberation Sans" font-style="normal" >1.5 GPa</text>
<line x1="492.3" y1="220.2" x2="516" y2="220.2" stroke="#e8383d" stroke-width="1.6" />
<text x="521" y="224.5" font-size="11" text-anchor="start" fill="#1a1a1a" stroke="#1a1a1a" stroke-width="0.28" font-weight="normal" font-family="Liberation Sans" font-style="normal" >128.6 GPa</text>
<rect x="313.2" y="146.1" width="265.5" height="86" fill="none" stroke="#000" stroke-width="1.7"/>
<text x="290.6" y="284.2" font-size="16" text-anchor="start" fill="#000" font-weight="bold" font-family="Liberation Serif" font-style="normal" >(g)</text>
<line x1="348.4" y1="521.7" x2="348.4" y2="518.4" stroke="#000" stroke-width="1.4" />
<line x1="348.4" y1="291" x2="348.4" y2="294.3" stroke="#000" stroke-width="1.4" />
<text x="348.4" y="536.2" font-size="13" text-anchor="middle" fill="#1a1a1a" stroke="#1a1a1a" stroke-width="0.28" font-weight="normal" font-family="Liberation Sans" font-style="normal" >0</text>
<line x1="375.56" y1="521.7" x2="375.56" y2="518.4" stroke="#000" stroke-width="1.4" />
<line x1="375.56" y1="291" x2="375.56" y2="294.3" stroke="#000" stroke-width="1.4" />
<text x="375.56" y="536.2" font-size="13" text-anchor="middle" fill="#1a1a1a" stroke="#1a1a1a" stroke-width="0.28" font-weight="normal" font-family="Liberation Sans" font-style="normal" >20</text>
<line x1="402.71" y1="521.7" x2="402.71" y2="518.4" stroke="#000" stroke-width="1.4" />
<line x1="402.71" y1="291" x2="402.71" y2="294.3" stroke="#000" stroke-width="1.4" />
<text x="402.71" y="536.2" font-size="13" text-anchor="middle" fill="#1a1a1a" stroke="#1a1a1a" stroke-width="0.28" font-weight="normal" font-family="Liberation Sans" font-style="normal" >40</text>
<line x1="429.87" y1="521.7" x2="429.87" y2="518.4" stroke="#000" stroke-width="1.4" />
<line x1="429.87" y1="291" x2="429.87" y2="294.3" stroke="#000" stroke-width="1.4" />
<text x="429.87" y="536.2" font-size="13" text-anchor="middle" fill="#1a1a1a" stroke="#1a1a1a" stroke-width="0.28" font-weight="normal" font-family="Liberation Sans" font-style="normal" >60</text>
<line x1="457.02" y1="521.7" x2="457.02" y2="518.4" stroke="#000" stroke-width="1.4" />
<line x1="457.02" y1="291" x2="457.02" y2="294.3" stroke="#000" stroke-width="1.4" />
<text x="457.02" y="536.2" font-size="13" text-anchor="middle" fill="#1a1a1a" stroke="#1a1a1a" stroke-width="0.28" font-weight="normal" font-family="Liberation Sans" font-style="normal" >80</text>
<line x1="484.18" y1="521.7" x2="484.18" y2="518.4" stroke="#000" stroke-width="1.4" />
<line x1="484.18" y1="291" x2="484.18" y2="294.3" stroke="#000" stroke-width="1.4" />
<text x="484.18" y="536.2" font-size="13" text-anchor="middle" fill="#1a1a1a" stroke="#1a1a1a" stroke-width="0.28" font-weight="normal" font-family="Liberation Sans" font-style="normal" >100</text>
<line x1="511.34" y1="521.7" x2="511.34" y2="518.4" stroke="#000" stroke-width="1.4" />
<line x1="511.34" y1="291" x2="511.34" y2="294.3" stroke="#000" stroke-width="1.4" />
<text x="511.34" y="536.2" font-size="13" text-anchor="middle" fill="#1a1a1a" stroke="#1a1a1a" stroke-width="0.28" font-weight="normal" font-family="Liberation Sans" font-style="normal" >120</text>
<line x1="538.49" y1="521.7" x2="538.49" y2="518.4" stroke="#000" stroke-width="1.4" />
<line x1="538.49" y1="291" x2="538.49" y2="294.3" stroke="#000" stroke-width="1.4" />
<text x="538.49" y="536.2" font-size="13" text-anchor="middle" fill="#1a1a1a" stroke="#1a1a1a" stroke-width="0.28" font-weight="normal" font-family="Liberation Sans" font-style="normal" >140</text>
<line x1="328.2" y1="293.22" x2="331" y2="293.22" stroke="#000" stroke-width="1.2" />
<line x1="559" y1="293.22" x2="556.2" y2="293.22" stroke="#000" stroke-width="1.2" />
<line x1="328.2" y1="297.42" x2="331" y2="297.42" stroke="#000" stroke-width="1.2" />
<line x1="559" y1="297.42" x2="556.2" y2="297.42" stroke="#000" stroke-width="1.2" />
<line x1="328.2" y1="300.97" x2="331" y2="300.97" stroke="#000" stroke-width="1.2" />
<line x1="559" y1="300.97" x2="556.2" y2="300.97" stroke="#000" stroke-width="1.2" />
<line x1="328.2" y1="304.05" x2="331" y2="304.05" stroke="#000" stroke-width="1.2" />
<line x1="559" y1="304.05" x2="556.2" y2="304.05" stroke="#000" stroke-width="1.2" />
<line x1="328.2" y1="306.77" x2="331" y2="306.77" stroke="#000" stroke-width="1.2" />
<line x1="559" y1="306.77" x2="556.2" y2="306.77" stroke="#000" stroke-width="1.2" />
<line x1="328.2" y1="309.2" x2="334" y2="309.2" stroke="#000" stroke-width="1.2" />
<line x1="559" y1="309.2" x2="553.2" y2="309.2" stroke="#000" stroke-width="1.2" />
<line x1="328.2" y1="325.18" x2="331" y2="325.18" stroke="#000" stroke-width="1.2" />
<line x1="559" y1="325.18" x2="556.2" y2="325.18" stroke="#000" stroke-width="1.2" />
<line x1="328.2" y1="334.54" x2="331" y2="334.54" stroke="#000" stroke-width="1.2" />
<line x1="559" y1="334.54" x2="556.2" y2="334.54" stroke="#000" stroke-width="1.2" />
<line x1="328.2" y1="341.17" x2="331" y2="341.17" stroke="#000" stroke-width="1.2" />
<line x1="559" y1="341.17" x2="556.2" y2="341.17" stroke="#000" stroke-width="1.2" />
<line x1="328.2" y1="346.32" x2="331" y2="346.32" stroke="#000" stroke-width="1.2" />
<line x1="559" y1="346.32" x2="556.2" y2="346.32" stroke="#000" stroke-width="1.2" />
<line x1="328.2" y1="350.52" x2="331" y2="350.52" stroke="#000" stroke-width="1.2" />
<line x1="559" y1="350.52" x2="556.2" y2="350.52" stroke="#000" stroke-width="1.2" />
<line x1="328.2" y1="354.07" x2="331" y2="354.07" stroke="#000" stroke-width="1.2" />
<line x1="559" y1="354.07" x2="556.2" y2="354.07" stroke="#000" stroke-width="1.2" />
<line x1="328.2" y1="357.15" x2="331" y2="357.15" stroke="#000" stroke-width="1.2" />
<line x1="559" y1="357.15" x2="556.2" y2="357.15" stroke="#000" stroke-width="1.2" />
<line x1="328.2" y1="359.87" x2="331" y2="359.87" stroke="#000" stroke-width="1.2" />
<line x1="559" y1="359.87" x2="556.2" y2="359.87" stroke="#000" stroke-width="1.2" />
<line x1="328.2" y1="362.3" x2="334" y2="362.3" stroke="#000" stroke-width="1.2" />
<line x1="559" y1="362.3" x2="553.2" y2="362.3" stroke="#000" stroke-width="1.2" />
<line x1="328.2" y1="378.28" x2="331" y2="378.28" stroke="#000" stroke-width="1.2" />
<line x1="559" y1="378.28" x2="556.2" y2="378.28" stroke="#000" stroke-width="1.2" />
<line x1="328.2" y1="387.64" x2="331" y2="387.64" stroke="#000" stroke-width="1.2" />
<line x1="559" y1="387.64" x2="556.2" y2="387.64" stroke="#000" stroke-width="1.2" />
<line x1="328.2" y1="394.27" x2="331" y2="394.27" stroke="#000" stroke-width="1.2" />
<line x1="559" y1="394.27" x2="556.2" y2="394.27" stroke="#000" stroke-width="1.2" />
<line x1="328.2" y1="399.42" x2="331" y2="399.42" stroke="#000" stroke-width="1.2" />
<line x1="559" y1="399.42" x2="556.2" y2="399.42" stroke="#000" stroke-width="1.2" />
<line x1="328.2" y1="403.62" x2="331" y2="403.62" stroke="#000" stroke-width="1.2" />
<line x1="559" y1="403.62" x2="556.2" y2="403.62" stroke="#000" stroke-width="1.2" />
<line x1="328.2" y1="407.17" x2="331" y2="407.17" stroke="#000" stroke-width="1.2" />
<line x1="559" y1="407.17" x2="556.2" y2="407.17" stroke="#000" stroke-width="1.2" />
<line x1="328.2" y1="410.25" x2="331" y2="410.25" stroke="#000" stroke-width="1.2" />
<line x1="559" y1="410.25" x2="556.2" y2="410.25" stroke="#000" stroke-width="1.2" />
<line x1="328.2" y1="412.97" x2="331" y2="412.97" stroke="#000" stroke-width="1.2" />
<line x1="559" y1="412.97" x2="556.2" y2="412.97" stroke="#000" stroke-width="1.2" />
<line x1="328.2" y1="415.4" x2="334" y2="415.4" stroke="#000" stroke-width="1.2" />
<line x1="559" y1="415.4" x2="553.2" y2="415.4" stroke="#000" stroke-width="1.2" />
<line x1="328.2" y1="431.38" x2="331" y2="431.38" stroke="#000" stroke-width="1.2" />
<line x1="559" y1="431.38" x2="556.2" y2="431.38" stroke="#000" stroke-width="1.2" />
<line x1="328.2" y1="440.74" x2="331" y2="440.74" stroke="#000" stroke-width="1.2" />
<line x1="559" y1="440.74" x2="556.2" y2="440.74" stroke="#000" stroke-width="1.2" />
<line x1="328.2" y1="447.37" x2="331" y2="447.37" stroke="#000" stroke-width="1.2" />
<line x1="559" y1="447.37" x2="556.2" y2="447.37" stroke="#000" stroke-width="1.2" />
<line x1="328.2" y1="452.52" x2="331" y2="452.52" stroke="#000" stroke-width="1.2" />
<line x1="559" y1="452.52" x2="556.2" y2="452.52" stroke="#000" stroke-width="1.2" />
<line x1="328.2" y1="456.72" x2="331" y2="456.72" stroke="#000" stroke-width="1.2" />
<line x1="559" y1="456.72" x2="556.2" y2="456.72" stroke="#000" stroke-width="1.2" />
<line x1="328.2" y1="460.27" x2="331" y2="460.27" stroke="#000" stroke-width="1.2" />
<line x1="559" y1="460.27" x2="556.2" y2="460.27" stroke="#000" stroke-width="1.2" />
<line x1="328.2" y1="463.35" x2="331" y2="463.35" stroke="#000" stroke-width="1.2" />
<line x1="559" y1="463.35" x2="556.2" y2="463.35" stroke="#000" stroke-width="1.2" />
<line x1="328.2" y1="466.07" x2="331" y2="466.07" stroke="#000" stroke-width="1.2" />
<line x1="559" y1="466.07" x2="556.2" y2="466.07" stroke="#000" stroke-width="1.2" />
<line x1="328.2" y1="468.5" x2="334" y2="468.5" stroke="#000" stroke-width="1.2" />
<line x1="559" y1="468.5" x2="553.2" y2="468.5" stroke="#000" stroke-width="1.2" />
<line x1="328.2" y1="484.48" x2="331" y2="484.48" stroke="#000" stroke-width="1.2" />
<line x1="559" y1="484.48" x2="556.2" y2="484.48" stroke="#000" stroke-width="1.2" />
<line x1="328.2" y1="493.84" x2="331" y2="493.84" stroke="#000" stroke-width="1.2" />
<line x1="559" y1="493.84" x2="556.2" y2="493.84" stroke="#000" stroke-width="1.2" />
<line x1="328.2" y1="500.47" x2="331" y2="500.47" stroke="#000" stroke-width="1.2" />
<line x1="559" y1="500.47" x2="556.2" y2="500.47" stroke="#000" stroke-width="1.2" />
<line x1="328.2" y1="505.62" x2="331" y2="505.62" stroke="#000" stroke-width="1.2" />
<line x1="559" y1="505.62" x2="556.2" y2="505.62" stroke="#000" stroke-width="1.2" />
<line x1="328.2" y1="509.82" x2="331" y2="509.82" stroke="#000" stroke-width="1.2" />
<line x1="559" y1="509.82" x2="556.2" y2="509.82" stroke="#000" stroke-width="1.2" />
<line x1="328.2" y1="513.37" x2="331" y2="513.37" stroke="#000" stroke-width="1.2" />
<line x1="559" y1="513.37" x2="556.2" y2="513.37" stroke="#000" stroke-width="1.2" />
<line x1="328.2" y1="516.45" x2="331" y2="516.45" stroke="#000" stroke-width="1.2" />
<line x1="559" y1="516.45" x2="556.2" y2="516.45" stroke="#000" stroke-width="1.2" />
<line x1="328.2" y1="519.17" x2="331" y2="519.17" stroke="#000" stroke-width="1.2" />
<line x1="559" y1="519.17" x2="556.2" y2="519.17" stroke="#000" stroke-width="1.2" />
<text x="315" y="314.2" font-size="13.2" text-anchor="end" fill="#1a1a1a" stroke="#1a1a1a" stroke-width="0.28" font-weight="normal" font-family="Liberation Sans" font-style="normal" >10</text>
<text x="316" y="308.4" font-size="8.8" text-anchor="start" fill="#1a1a1a" stroke="#1a1a1a" stroke-width="0.28" font-weight="normal" font-family="Liberation Sans" font-style="normal" >0</text>
<text x="315" y="367.3" font-size="13.2" text-anchor="end" fill="#1a1a1a" stroke="#1a1a1a" stroke-width="0.28" font-weight="normal" font-family="Liberation Sans" font-style="normal" >10</text>
<text x="316" y="361.5" font-size="8.8" text-anchor="start" fill="#1a1a1a" stroke="#1a1a1a" stroke-width="0.28" font-weight="normal" font-family="Liberation Sans" font-style="normal" >1</text>
<text x="315" y="420.4" font-size="13.2" text-anchor="end" fill="#1a1a1a" stroke="#1a1a1a" stroke-width="0.28" font-weight="normal" font-family="Liberation Sans" font-style="normal" >10</text>
<text x="316" y="414.6" font-size="8.8" text-anchor="start" fill="#1a1a1a" stroke="#1a1a1a" stroke-width="0.28" font-weight="normal" font-family="Liberation Sans" font-style="normal" >2</text>
<text x="315" y="473.5" font-size="13.2" text-anchor="end" fill="#1a1a1a" stroke="#1a1a1a" stroke-width="0.28" font-weight="normal" font-family="Liberation Sans" font-style="normal" >10</text>
<text x="316" y="467.7" font-size="8.8" text-anchor="start" fill="#1a1a1a" stroke="#1a1a1a" stroke-width="0.28" font-weight="normal" font-family="Liberation Sans" font-style="normal" >3</text>
<text x="315" y="526.6" font-size="13.2" text-anchor="end" fill="#1a1a1a" stroke="#1a1a1a" stroke-width="0.28" font-weight="normal" font-family="Liberation Sans" font-style="normal" >10</text>
<text x="316" y="520.8" font-size="8.8" text-anchor="start" fill="#1a1a1a" stroke="#1a1a1a" stroke-width="0.28" font-weight="normal" font-family="Liberation Sans" font-style="normal" >4</text>
<g transform="translate(297.2,456.9) rotate(-90)"><text x="0" y="0" font-size="12.1" fill="#1a1a1a" stroke="#1a1a1a" stroke-width="0.28" font-family="Liberation Sans">Sensitivity</text><g transform="translate(54.6,0) scale(1.23,1)"><text x="0" y="0" font-size="12.5" fill="#1a1a1a" stroke="#1a1a1a" stroke-width="0.22" font-family="Liberation Serif">(&#956;T/&#8730;Hz)</text><line x1="28.6" y1="-10.6" x2="43.4" y2="-10.6" stroke="#1a1a1a" stroke-width="0.8"/></g></g>
<text x="443.9" y="558.1" font-size="14.9" text-anchor="middle" fill="#1a1a1a" stroke="#1a1a1a" stroke-width="0.28" font-weight="normal" font-family="Liberation Sans" font-style="normal" >Pressure (GPa)</text>
<line x1="327.4" y1="349.2" x2="555.6" y2="349.2" stroke="#7c7c7c" stroke-width="1.05" stroke-dasharray="5,4.63"/>
<text x="545.8" y="365.4" font-size="12.2" text-anchor="end" fill="#8c8c8c" stroke="#8c8c8c" stroke-width="0.28" font-weight="normal" font-family="Liberation Sans" font-style="normal" >Nanoscale</text>
<text x="548.6" y="379.6" font-size="12.3" text-anchor="end" fill="#8c8c8c" stroke="#8c8c8c" stroke-width="0.28" font-weight="normal" font-family="Liberation Sans" font-style="normal" >single-domain grain</text>
<ellipse cx="0" cy="0" rx="124.2" ry="24.4" fill="none" stroke="#f68d4c" stroke-width="1.9" transform="translate(440.05,415.1) rotate(31.19)"/>
<ellipse cx="369.3" cy="364.6" rx="33.3" ry="15.6" fill="none" stroke="#1f6fde" stroke-width="2.2"/>
<ellipse cx="0" cy="0" rx="38.0" ry="11.1" fill="none" stroke="#f28c8c" stroke-width="1.5" transform="translate(507.0,313.45) rotate(8.45)"/>
<ellipse cx="0" cy="0" rx="47.7" ry="16.15" fill="none" stroke="#3aaa62" stroke-width="1.8" transform="translate(395.54,467.68) rotate(61.26)"/>
<path d="M358.9,367.5 L355,365.25 L355,360.75 L358.9,358.5 L362.8,360.75 L362.8,365.25 Z" fill="#1766d8"/>
<path d="M349,367.05 L358.2,367.05 L353.6,359.35 Z" fill="#f45c0c"/>
<path d="M378.3,369 L374.23,366.65 L374.23,361.95 L378.3,359.6 L382.37,361.95 L382.37,366.65 Z" fill="#5c97ea"/>
<path d="M401.8,388.45 L411.8,388.45 L406.8,379.95 Z" fill="#f68a44"/>
<path d="M425.2,424.75 L435.2,424.75 L430.2,415.85 Z" fill="#f9ab7c"/>
<path d="M530.4,475.8 L540.2,475.8 L535.3,467.4 Z" fill="#fcccad"/>
<rect x="378.15" y="438.75" width="7.7" height="7.7" fill="#2f9e5e"/>
<rect x="401.75" y="489.35" width="7.7" height="7.7" fill="#72cf98"/>
<path d="M526.2,421.9 L531.7,427.4 L526.2,432.9 L520.7,427.4 Z" fill="#a866dc"/>
<path d="M491.3,305.4 L492.56,308.86 L496.25,308.99 L493.34,311.26 L494.36,314.81 L491.3,312.75 L488.24,314.81 L489.26,311.26 L486.35,308.99 L490.04,308.86 Z" fill="#f9c2c2"/>
<path d="M500.7,306 L501.96,309.46 L505.65,309.59 L502.74,311.86 L503.76,315.41 L500.7,313.35 L497.64,315.41 L498.66,311.86 L495.75,309.59 L499.44,309.46 Z" fill="#f28b8b"/>
<path d="M505.9,310.3 L507.16,313.76 L510.85,313.89 L507.94,316.16 L508.96,319.71 L505.9,317.65 L502.84,319.71 L503.86,316.16 L500.95,313.89 L504.64,313.76 Z" fill="#e86767"/>
<path d="M512.8,310.7 L514.06,314.16 L517.75,314.29 L514.84,316.56 L515.86,320.11 L512.8,318.05 L509.74,320.11 L510.76,316.56 L507.85,314.29 L511.54,314.16 Z" fill="#e03636"/>
<path d="M522.7,309.5 L523.96,312.96 L527.65,313.09 L524.74,315.36 L525.76,318.91 L522.7,316.85 L519.64,318.91 L520.66,315.36 L517.75,313.09 L521.44,312.96 Z" fill="#b41616"/>
<rect x="328.2" y="291" width="230.8" height="230.7" fill="none" stroke="#000" stroke-width="2.0"/>
<text x="567.7" y="300.2" font-size="9.4" text-anchor="start" fill="#1f6fde" font-weight="bold" font-family="Liberation Sans" font-style="normal" >NV inside anvil</text>
<path d="M578.1,312.9 L574.12,310.6 L574.12,306 L578.1,303.7 L582.08,306 L582.08,310.6 Z" fill="#1766d8"/>
<text x="591.5" y="312" font-size="9.4" text-anchor="start" fill="#1a1a1a" stroke="#1a1a1a" stroke-width="0.28" font-weight="normal" font-family="Liberation Sans" font-style="normal" >Lesik, et al.</text>
<path d="M578.1,324.2 L574.12,321.9 L574.12,317.3 L578.1,315 L582.08,317.3 L582.08,321.9 Z" fill="#5c97ea"/>
<text x="591.5" y="322.6" font-size="9.4" text-anchor="start" fill="#1a1a1a" stroke="#1a1a1a" stroke-width="0.28" font-weight="normal" font-family="Liberation Sans" font-style="normal" >Hsieh, et al.</text>
<text x="567.7" y="347" font-size="9.4" text-anchor="start" fill="#f2661a" font-weight="bold" font-family="Liberation Sans" font-style="normal" >NV inside chamber</text>
<path d="M573.3,357.9 L582.9,357.9 L578.1,349.9 Z" fill="#f45c0c"/>
<text x="591.5" y="357.5" font-size="9.4" text-anchor="start" fill="#1a1a1a" stroke="#1a1a1a" stroke-width="0.28" font-weight="normal" font-family="Liberation Sans" font-style="normal" >Yip, et al.</text>
<path d="M573.3,369.4 L582.9,369.4 L578.1,361.4 Z" fill="#f68a44"/>
<text x="591.5" y="368.8" font-size="9.4" text-anchor="start" fill="#1a1a1a" stroke="#1a1a1a" stroke-width="0.28" font-weight="normal" font-family="Liberation Sans" font-style="normal" >Shang, et al.</text>
<path d="M573.3,380.6 L582.9,380.6 L578.1,372.6 Z" fill="#f9ab7c"/>
<text x="591.5" y="380" font-size="9.4" text-anchor="start" fill="#1a1a1a" stroke="#1a1a1a" stroke-width="0.28" font-weight="normal" font-family="Liberation Sans" font-style="normal" >Doherty, et al.</text>
<path d="M573.3,392 L582.9,392 L578.1,384 Z" fill="#fcccad"/>
<text x="591.5" y="391.4" font-size="9.4" text-anchor="start" fill="#1a1a1a" stroke="#1a1a1a" stroke-width="0.28" font-weight="normal" font-family="Liberation Sans" font-style="normal" >Dai, et al.</text>
<text x="567.7" y="415.6" font-size="9.4" text-anchor="start" fill="#3aaa62" font-weight="bold" font-family="Liberation Sans" font-style="normal" >Defects in SiC anvil</text>
<rect x="574.1" y="419.4" width="7.4" height="7.4" fill="#2f9e5e"/>
<text x="591.5" y="426.6" font-size="9.4" text-anchor="start" fill="#1a1a1a" stroke="#1a1a1a" stroke-width="0.28" font-weight="normal" font-family="Liberation Sans" font-style="normal" >Wang, et al.</text>
<rect x="574.1" y="431.6" width="7.4" height="7.4" fill="#72cf98"/>
<text x="591.5" y="438.5" font-size="9.4" text-anchor="start" fill="#1a1a1a" stroke="#1a1a1a" stroke-width="0.28" font-weight="normal" font-family="Liberation Sans" font-style="normal" >Liu, et al.</text>
<text x="567.7" y="461.6" font-size="9.4" text-anchor="start" fill="#b06ae0" font-weight="bold" font-family="Liberation Sans" font-style="normal" >Microstructure on anvil</text>
<path d="M578.4,464.6 L583.8,470 L578.4,475.4 L573,470 Z" fill="#a866dc"/>
<text x="591.5" y="472.8" font-size="9.4" text-anchor="start" fill="#1a1a1a" stroke="#1a1a1a" stroke-width="0.28" font-weight="normal" font-family="Liberation Sans" font-style="normal" >Hilberer, et al.</text>
<text x="567.7" y="496.5" font-size="9.4" text-anchor="start" fill="#e8404c" font-weight="bold" font-family="Liberation Sans" font-style="normal" >Orientation designed anvil</text>
<path d="M578.4,499.4 L579.63,502.9 L583.35,502.99 L580.4,505.25 L581.46,508.81 L578.4,506.7 L575.34,508.81 L576.4,505.25 L573.45,502.99 L577.17,502.9 Z" fill="#f9c2c2"/>
<text x="591.3" y="508.6" font-size="9.4" text-anchor="start" fill="#1a1a1a" stroke="#1a1a1a" stroke-width="0.28" font-weight="normal" font-family="Liberation Sans" font-style="normal" >~</text>
<path d="M604.4,499.4 L605.63,502.9 L609.35,502.99 L606.4,505.25 L607.46,508.81 L604.4,506.7 L601.34,508.81 L602.4,505.25 L599.45,502.99 L603.17,502.9 Z" fill="#b41616"/>
<text x="618.2" y="507.3" font-size="9.4" text-anchor="start" fill="#1a1a1a" stroke="#1a1a1a" stroke-width="0.28" font-weight="normal" font-family="Liberation Sans" font-style="normal" >This work</text>
</svg>
</body></html>
